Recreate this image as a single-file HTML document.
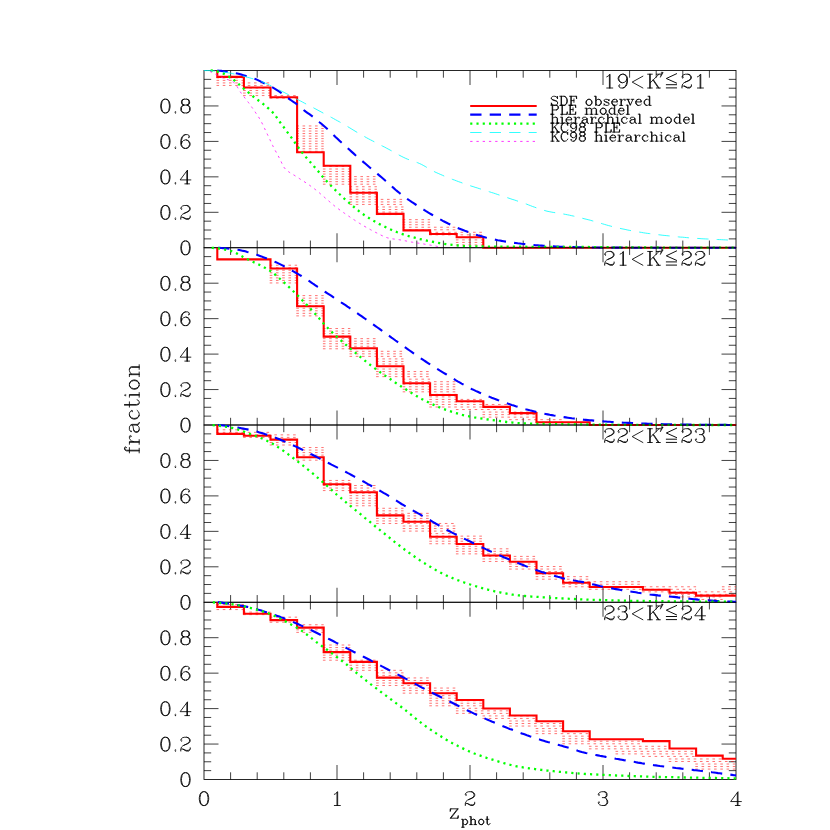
<!DOCTYPE html>
<html><head><meta charset="utf-8"><title>chart</title>
<style>html,body{margin:0;padding:0;background:#fff}svg{display:block}</style></head>
<body>
<svg width="830" height="830" viewBox="0 0 830 830">
<rect width="830" height="830" fill="#fff"/>
<rect x="204.00" y="70.50" width="532.00" height="177.25" fill="none" stroke="#000" stroke-width="0.85"/>
<path d="M230.60 247.75v-7.2M230.60 70.50v7.2M257.20 247.75v-7.2M257.20 70.50v7.2M283.80 247.75v-7.2M283.80 70.50v7.2M310.40 247.75v-7.2M310.40 70.50v7.2M337.00 247.75v-14.5M337.00 70.50v14.5M363.60 247.75v-7.2M363.60 70.50v7.2M390.20 247.75v-7.2M390.20 70.50v7.2M416.80 247.75v-7.2M416.80 70.50v7.2M443.40 247.75v-7.2M443.40 70.50v7.2M470.00 247.75v-14.5M470.00 70.50v14.5M496.60 247.75v-7.2M496.60 70.50v7.2M523.20 247.75v-7.2M523.20 70.50v7.2M549.80 247.75v-7.2M549.80 70.50v7.2M576.40 247.75v-7.2M576.40 70.50v7.2M603.00 247.75v-14.5M603.00 70.50v14.5M629.60 247.75v-7.2M629.60 70.50v7.2M656.20 247.75v-7.2M656.20 70.50v7.2M682.80 247.75v-7.2M682.80 70.50v7.2M709.40 247.75v-7.2M709.40 70.50v7.2M204.00 238.89h7.2M736.00 238.89h-7.2M204.00 230.03h7.2M736.00 230.03h-7.2M204.00 221.16h7.2M736.00 221.16h-7.2M204.00 212.30h14.5M736.00 212.30h-14.5M204.00 203.44h7.2M736.00 203.44h-7.2M204.00 194.57h7.2M736.00 194.57h-7.2M204.00 185.71h7.2M736.00 185.71h-7.2M204.00 176.85h14.5M736.00 176.85h-14.5M204.00 167.99h7.2M736.00 167.99h-7.2M204.00 159.12h7.2M736.00 159.12h-7.2M204.00 150.26h7.2M736.00 150.26h-7.2M204.00 141.40h14.5M736.00 141.40h-14.5M204.00 132.54h7.2M736.00 132.54h-7.2M204.00 123.67h7.2M736.00 123.67h-7.2M204.00 114.81h7.2M736.00 114.81h-7.2M204.00 105.95h14.5M736.00 105.95h-14.5M204.00 97.09h7.2M736.00 97.09h-7.2M204.00 88.22h7.2M736.00 88.22h-7.2M204.00 79.36h7.2M736.00 79.36h-7.2" stroke="#000" stroke-width="0.75" fill="none"/>
<path d="M216.5 77.85H243.9M216.5 80.38H243.9M216.5 82.91H270.5M216.5 85.45H270.5M243.1 87.98H270.5M243.1 90.51H270.5M243.1 93.04H270.5M243.1 95.57H297.1M269.7 98.11H297.1M296.3 125.96H323.7M296.3 128.49H323.7M296.3 131.02H323.7M296.3 133.55H323.7M296.3 136.09H323.7M296.3 138.62H323.7M296.3 141.15H323.7M296.3 143.68H323.7M296.3 146.21H323.7M296.3 148.75H323.7M296.3 151.28H323.7M322.9 166.47H350.3M322.9 169.00H350.3M322.9 171.53H350.3M322.9 174.07H350.3M322.9 176.60H376.9M322.9 179.13H376.9M322.9 181.66H376.9M322.9 184.19H376.9M349.5 186.73H376.9M349.5 189.26H376.9M349.5 191.79H376.9M349.5 194.32H376.9M349.5 196.85H376.9M349.5 199.39H403.5M349.5 201.92H403.5M349.5 204.45H403.5M376.1 206.98H403.5M376.1 209.51H403.5M376.1 212.05H403.5M376.1 214.58H403.5M402.7 219.64H430.1M402.7 222.17H430.1M402.7 224.71H430.1M402.7 227.24H456.7M402.7 229.77H456.7M429.3 232.30H483.3M429.3 234.83H483.3M455.9 237.37H483.3M455.9 239.90H483.3M455.9 242.43H483.3M455.9 244.96H483.3" stroke="#ff0000" stroke-width="0.65" stroke-dasharray="2.6 3.65" fill="none" opacity="0.85"/>
<polyline points="217.3,70.5 217.3,76.9 243.9,76.9 243.9,87.5 270.5,87.5 270.5,97.3 297.1,97.3 297.1,152.2 323.7,152.2 323.7,165.8 350.3,165.8 350.3,192.8 376.9,192.8 376.9,213.9 403.5,213.9 403.5,230.4 430.1,230.4 430.1,234.0 456.7,234.0 456.7,237.3 483.3,237.3 483.3,247.8 736.0,247.8" fill="none" stroke="#ff0000" stroke-width="2.1" stroke-linejoin="miter"/>
<polyline points="217.3,70.5 219.3,70.7 221.3,70.9 223.3,71.2 225.3,71.5 227.3,71.7 229.3,72.0 231.3,72.4 233.3,72.7 235.3,73.1 237.3,73.5 239.3,74.0 241.3,74.6 243.3,75.2 245.3,75.8 247.3,76.4 249.3,77.0 251.3,77.7 253.3,78.4 255.4,79.1 257.4,79.9 259.4,80.9 261.4,81.9 263.4,82.9 265.4,83.9 267.4,84.8 269.4,85.8 271.4,86.8 273.4,87.9 275.4,89.1 277.4,90.4 279.4,91.7 281.4,93.0 283.4,94.5 285.4,96.0 287.4,97.6 289.4,99.1 291.4,100.5 293.4,101.9 295.4,103.2 297.4,104.7 299.4,106.3 301.4,108.1 303.4,109.8 305.4,111.4 307.4,112.8 309.4,114.2 311.4,115.7 313.4,117.2 315.4,118.8 317.4,120.5 319.4,122.2 321.4,123.8 323.4,125.5 325.4,127.2 327.4,129.0 329.5,130.9 331.5,132.9 333.5,134.9 335.5,136.9 337.5,138.8 339.5,140.7 341.5,142.6 343.5,144.4 345.5,146.2 347.5,148.0 349.5,149.8 351.5,151.6 353.5,153.4 355.5,155.2 357.5,156.9 359.5,158.7 361.5,160.4 363.5,162.1 365.5,163.8 367.5,165.5 369.5,167.2 371.5,168.9 373.5,170.6 375.5,172.3 377.5,173.9 379.5,175.6 381.5,177.3 383.5,179.0 385.5,180.8 387.5,182.6 389.5,184.4 391.5,186.2 393.5,187.9 395.5,189.7 397.5,191.4 399.5,193.0 401.5,194.6 403.6,196.1 405.6,197.6 407.6,199.1 409.6,200.5 411.6,201.9 413.6,203.2 415.6,204.5 417.6,205.8 419.6,207.1 421.6,208.4 423.6,209.6 425.6,210.9 427.6,212.1 429.6,213.3 431.6,214.5 433.6,215.7 435.6,216.9 437.6,218.0 439.6,219.1 441.6,220.2 443.6,221.3 445.6,222.3 447.6,223.3 449.6,224.2 451.6,225.2 453.6,226.1 455.6,227.0 457.6,227.9 459.6,228.7 461.6,229.5 463.6,230.3 465.6,231.1 467.6,231.8 469.6,232.6 471.6,233.2 473.6,233.9 475.6,234.5 477.7,235.2 479.7,235.8 481.7,236.3 483.7,236.9 485.7,237.5 487.7,238.0 489.7,238.5 491.7,238.9 493.7,239.4 495.7,239.8 497.7,240.2 499.7,240.5 501.7,240.9 503.7,241.2 505.7,241.6 507.7,241.9 509.7,242.2 511.7,242.5 513.7,242.8 515.7,243.0 517.7,243.3 519.7,243.5 521.7,243.8 523.7,244.0 525.7,244.2 527.7,244.4 529.7,244.6 531.7,244.8 533.7,245.0 535.7,245.2 537.7,245.3 539.7,245.5 541.7,245.6 543.7,245.8 545.7,245.9 547.7,246.0 549.7,246.1 551.8,246.3 553.8,246.4 555.8,246.5 557.8,246.6 559.8,246.7 561.8,246.8 563.8,246.9 565.8,246.9 567.8,247.0 569.8,247.0 571.8,247.1 573.8,247.1 575.8,247.2 577.8,247.2 579.8,247.3 581.8,247.3 583.8,247.4 585.8,247.4 587.8,247.4 589.8,247.5 591.8,247.5 593.8,247.5 595.8,247.5 597.8,247.5 599.8,247.6 601.8,247.6 603.8,247.6 605.8,247.6 607.8,247.6 609.8,247.6 611.8,247.6 613.8,247.6 615.8,247.6 617.8,247.6 619.8,247.6 621.8,247.6 623.8,247.6 625.9,247.6 627.9,247.6 629.9,247.6 631.9,247.6 633.9,247.7 635.9,247.7 637.9,247.7 639.9,247.7 641.9,247.7 643.9,247.7 645.9,247.7 647.9,247.7 649.9,247.7 651.9,247.7 653.9,247.7 655.9,247.7 657.9,247.7 659.9,247.7 661.9,247.7 663.9,247.7 665.9,247.7 667.9,247.7 669.9,247.7 671.9,247.7 673.9,247.7 675.9,247.7 677.9,247.7 679.9,247.7 681.9,247.7 683.9,247.7 685.9,247.7 687.9,247.7 689.9,247.7 691.9,247.7 693.9,247.7 695.9,247.7 697.9,247.7 700.0,247.7 702.0,247.7 704.0,247.7 706.0,247.7 708.0,247.7 710.0,247.7 712.0,247.7 714.0,247.7 716.0,247.7 718.0,247.7 720.0,247.7 722.0,247.7 724.0,247.7 726.0,247.7 728.0,247.7 730.0,247.7 732.0,247.7 734.0,247.7 736.0,247.8" fill="none" stroke="#0000ff" stroke-width="2.1" stroke-dasharray="11.3 8.2" stroke-dashoffset="0.80"/>
<polyline points="210.7,70.5 212.7,70.6 214.7,70.9 216.7,71.3 218.8,71.9 220.8,72.6 222.8,73.4 224.8,74.2 226.9,75.3 228.9,76.6 230.9,78.0 233.0,79.4 235.0,80.9 237.0,82.6 239.0,84.4 241.1,86.3 243.1,88.1 245.1,89.8 247.2,91.5 249.2,93.2 251.2,94.8 253.2,96.5 255.3,98.0 257.3,99.6 259.3,101.1 261.4,102.6 263.4,104.2 265.4,105.8 267.4,107.5 269.5,109.2 271.5,111.1 273.5,113.3 275.6,116.0 277.6,118.8 279.6,121.6 281.6,124.3 283.7,127.1 285.7,129.9 287.7,132.6 289.8,135.4 291.8,138.2 293.8,141.0 295.8,143.9 297.9,146.8 299.9,149.6 301.9,152.2 304.0,154.7 306.0,157.2 308.0,159.5 310.0,161.8 312.1,164.1 314.1,166.5 316.1,168.9 318.2,171.3 320.2,173.8 322.2,176.2 324.2,178.5 326.3,180.7 328.3,182.9 330.3,185.0 332.4,187.1 334.4,189.1 336.4,191.1 338.4,193.1 340.5,195.0 342.5,196.9 344.5,198.8 346.6,200.6 348.6,202.4 350.6,204.2 352.6,205.9 354.7,207.6 356.7,209.3 358.7,210.9 360.8,212.5 362.8,214.0 364.8,215.4 366.8,216.7 368.9,218.0 370.9,219.3 372.9,220.5 374.9,221.6 377.0,222.8 379.0,223.9 381.0,224.9 383.1,225.9 385.1,226.9 387.1,227.8 389.1,228.8 391.2,229.7 393.2,230.6 395.2,231.4 397.3,232.3 399.3,233.0 401.3,233.8 403.3,234.4 405.4,235.1 407.4,235.7 409.4,236.3 411.5,236.9 413.5,237.4 415.5,237.9 417.5,238.5 419.6,239.0 421.6,239.4 423.6,239.9 425.7,240.3 427.7,240.8 429.7,241.2 431.7,241.6 433.8,242.0 435.8,242.4 437.8,242.8 439.9,243.2 441.9,243.5 443.9,243.8 445.9,244.1 448.0,244.4 450.0,244.6 452.0,244.8 454.1,245.1 456.1,245.3 458.1,245.5 460.1,245.7 462.2,245.9 464.2,246.1 466.2,246.2 468.3,246.3 470.3,246.3 472.3,246.4 474.3,246.4 476.4,246.4 478.4,246.5 480.4,246.5 482.5,246.5 484.5,246.5 486.5,246.5 488.5,246.6 490.6,246.6 492.6,246.6 494.6,246.6 496.7,246.6 498.7,246.6 500.7,246.6 502.7,246.7 504.8,246.7 506.8,246.7 508.8,246.7 510.8,246.7 512.9,246.7 514.9,246.7 516.9,246.7 519.0,246.7 521.0,246.7 523.0,246.7 525.0,246.7 527.1,246.8 529.1,246.8 531.1,246.8 533.2,246.8 535.2,246.8 537.2,246.8 539.2,246.8 541.3,246.8 543.3,246.8 545.3,246.8 547.4,246.8 549.4,246.8 551.4,246.8 553.4,246.8 555.5,246.8 557.5,246.8 559.5,246.8 561.6,246.9 563.6,246.9 565.6,246.9 567.6,246.9 569.7,246.9 571.7,246.9 573.7,246.9 575.8,246.9 577.8,247.0 579.8,247.0 581.8,247.0 583.9,247.0 585.9,247.0 587.9,247.0 590.0,247.1 592.0,247.1 594.0,247.1 596.0,247.1 598.1,247.1 600.1,247.2 602.1,247.2 604.2,247.2 606.2,247.2 608.2,247.2 610.2,247.3 612.3,247.3 614.3,247.3 616.3,247.3 618.4,247.3 620.4,247.3 622.4,247.4 624.4,247.4 626.5,247.4 628.5,247.4 630.5,247.4 632.6,247.4 634.6,247.4 636.6,247.4 638.6,247.4 640.7,247.4 642.7,247.5 644.7,247.5 646.8,247.5 648.8,247.5 650.8,247.5 652.8,247.5 654.9,247.5 656.9,247.5 658.9,247.5 661.0,247.5 663.0,247.6 665.0,247.6 667.0,247.6 669.1,247.6 671.1,247.6 673.1,247.6 675.1,247.6 677.2,247.6 679.2,247.6 681.2,247.6 683.3,247.6 685.3,247.6 687.3,247.6 689.3,247.7 691.4,247.7 693.4,247.7 695.4,247.7 697.5,247.7 699.5,247.7 701.5,247.7 703.5,247.7 705.6,247.7 707.6,247.7 709.6,247.7 711.7,247.7 713.7,247.7 715.7,247.7 717.7,247.7 719.8,247.7 721.8,247.7 723.8,247.7 725.9,247.7 727.9,247.7 729.9,247.7 731.9,247.7 734.0,247.7 736.0,247.8" fill="none" stroke="#00ff00" stroke-width="2.3" stroke-dasharray="2.15 4.1" stroke-dashoffset="0.00"/>
<polyline points="204.0,70.5 206.1,70.6 208.1,70.6 210.2,70.7 212.2,70.9 214.3,71.0 216.3,71.2 218.4,71.4 220.4,71.6 222.5,71.9 224.5,72.2 226.6,72.5 228.6,72.9 230.7,73.2 232.8,73.7 234.8,74.1 236.9,74.6 238.9,75.0 241.0,75.5 243.0,76.1 245.1,76.6 247.1,77.2 249.2,77.7 251.2,78.3 253.3,78.9 255.4,79.5 257.4,80.1 259.5,80.8 261.5,81.6 263.6,82.4 265.6,83.3 267.7,84.2 269.7,85.2 271.8,86.2 273.8,87.2 275.9,88.3 277.9,89.3 280.0,90.4 282.1,91.4 284.1,92.4 286.2,93.5 288.2,94.5 290.3,95.6 292.3,96.7 294.4,97.8 296.4,98.9 298.5,100.0 300.5,101.0 302.6,102.1 304.6,103.2 306.7,104.3 308.8,105.4 310.8,106.5 312.9,107.5 314.9,108.6 317.0,109.7 319.0,110.8 321.1,111.9 323.1,113.0 325.2,114.1 327.2,115.2 329.3,116.3 331.4,117.4 333.4,118.5 335.5,119.7 337.5,120.8 339.6,121.9 341.6,123.1 343.7,124.3 345.7,125.5 347.8,126.7 349.8,127.9 351.9,129.2 353.9,130.4 356.0,131.7 358.1,132.9 360.1,134.1 362.2,135.3 364.2,136.4 366.3,137.6 368.3,138.7 370.4,139.8 372.4,140.8 374.5,141.9 376.5,143.0 378.6,144.1 380.6,145.1 382.7,146.2 384.8,147.2 386.8,148.3 388.9,149.4 390.9,150.5 393.0,151.6 395.0,152.8 397.1,153.9 399.1,155.1 401.2,156.2 403.2,157.2 405.3,158.2 407.4,159.1 409.4,159.9 411.5,160.6 413.5,161.3 415.6,162.0 417.6,162.7 419.7,163.6 421.7,164.5 423.8,165.7 425.8,166.8 427.9,168.1 429.9,169.3 432.0,170.4 434.1,171.5 436.1,172.5 438.2,173.4 440.2,174.3 442.3,175.2 444.3,176.1 446.4,176.9 448.4,177.7 450.5,178.6 452.5,179.4 454.6,180.1 456.6,180.9 458.7,181.7 460.8,182.4 462.8,183.2 464.9,183.9 466.9,184.6 469.0,185.3 471.0,186.0 473.1,186.6 475.1,187.3 477.2,187.9 479.2,188.6 481.3,189.2 483.4,189.9 485.4,190.5 487.5,191.2 489.5,191.8 491.6,192.5 493.6,193.1 495.7,193.8 497.7,194.5 499.8,195.2 501.8,195.8 503.9,196.5 505.9,197.2 508.0,197.9 510.1,198.6 512.1,199.3 514.2,199.9 516.2,200.6 518.3,201.3 520.3,202.0 522.4,202.7 524.4,203.4 526.5,204.1 528.5,204.9 530.6,205.7 532.6,206.5 534.7,207.2 536.8,208.0 538.8,208.7 540.9,209.4 542.9,210.0 545.0,210.6 547.0,211.2 549.1,211.6 551.1,212.0 553.2,212.4 555.2,212.7 557.3,213.0 559.4,213.3 561.4,213.6 563.5,214.0 565.5,214.4 567.6,214.8 569.6,215.2 571.7,215.7 573.7,216.1 575.8,216.6 577.8,217.1 579.9,217.6 581.9,218.1 584.0,218.7 586.1,219.2 588.1,219.7 590.2,220.2 592.2,220.8 594.3,221.3 596.3,221.9 598.4,222.5 600.4,223.1 602.5,223.8 604.5,224.4 606.6,225.0 608.6,225.6 610.7,226.1 612.8,226.7 614.8,227.2 616.9,227.7 618.9,228.1 621.0,228.6 623.0,229.0 625.1,229.4 627.1,229.9 629.2,230.3 631.2,230.7 633.3,231.0 635.4,231.4 637.4,231.8 639.5,232.1 641.5,232.4 643.6,232.8 645.6,233.1 647.7,233.4 649.7,233.6 651.8,233.9 653.8,234.2 655.9,234.4 657.9,234.7 660.0,234.9 662.1,235.2 664.1,235.4 666.2,235.6 668.2,235.8 670.3,236.0 672.3,236.2 674.4,236.5 676.4,236.7 678.5,236.9 680.5,237.1 682.6,237.2 684.6,237.4 686.7,237.6 688.8,237.8 690.8,238.0 692.9,238.1 694.9,238.3 697.0,238.4 699.0,238.5 701.1,238.7 703.1,238.8 705.2,238.9 707.2,239.0 709.3,239.1 711.4,239.2 713.4,239.3 715.5,239.4 717.5,239.5 719.6,239.6 721.6,239.7 723.7,239.8 725.7,239.9 727.8,240.0 729.8,240.1 731.9,240.2 733.9,240.3 736.0,240.5" fill="none" stroke="#00ffff" stroke-width="0.8" stroke-dasharray="11.3 8.2"/>
<polyline points="210.0,71.4 210.9,71.9 211.8,72.3 212.7,72.8 213.6,73.3 214.5,73.7 215.4,74.2 216.3,74.6 217.2,75.1 218.0,75.5 218.9,76.0 219.8,76.4 220.7,76.8 221.6,77.3 222.5,77.7 223.4,78.1 224.3,78.4 225.2,78.7 226.1,79.1 227.0,79.4 227.9,79.7 228.8,80.0 229.7,80.4 230.6,80.8 231.5,81.2 232.4,81.7 233.3,82.2 234.2,82.8 235.1,83.7 236.0,84.9 236.9,86.3 237.8,87.8 238.7,89.3 239.6,90.8 240.5,92.1 241.3,93.3 242.2,94.5 243.1,95.7 244.0,96.8 244.9,98.0 245.8,99.1 246.7,100.3 247.6,101.4 248.5,102.6 249.4,103.8 250.3,105.1 251.2,106.3 252.1,107.6 253.0,108.8 253.9,110.1 254.8,111.4 255.7,112.8 256.6,114.1 257.5,115.4 258.4,116.7 259.3,118.2 260.2,119.7 261.1,121.3 262.0,123.1 262.9,124.8 263.7,126.7 264.6,128.5 265.5,130.4 266.4,132.3 267.3,134.2 268.2,136.0 269.1,137.9 270.0,139.8 270.9,141.8 271.8,143.7 272.7,145.6 273.6,147.4 274.5,149.1 275.4,150.8 276.3,152.4 277.2,154.1 278.1,155.7 279.0,157.4 279.9,159.1 280.8,161.0 281.7,162.9 282.6,164.8 283.5,166.5 284.4,167.9 285.3,168.9 286.2,169.8 287.0,170.6 287.9,171.3 288.8,171.9 289.7,172.5 290.6,173.1 291.5,173.6 292.4,174.1 293.3,174.7 294.2,175.2 295.1,175.8 296.0,176.4 296.9,177.0 297.8,177.6 298.7,178.1 299.6,178.7 300.5,179.3 301.4,179.8 302.3,180.4 303.2,181.0 304.1,181.6 305.0,182.1 305.9,182.8 306.8,183.4 307.7,184.0 308.6,184.6 309.4,185.2 310.3,185.8 311.2,186.5 312.1,187.1 313.0,187.8 313.9,188.5 314.8,189.1 315.7,189.8 316.6,190.5 317.5,191.3 318.4,192.0 319.3,192.8 320.2,193.6 321.1,194.4 322.0,195.2 322.9,195.9 323.8,196.7 324.7,197.5 325.6,198.3 326.5,199.0 327.4,199.8 328.3,200.6 329.2,201.4 330.1,202.1 331.0,202.9 331.9,203.7 332.7,204.4 333.6,205.2 334.5,205.9 335.4,206.6 336.3,207.3 337.2,208.0 338.1,208.7 339.0,209.3 339.9,210.0 340.8,210.6 341.7,211.3 342.6,211.9 343.5,212.6 344.4,213.2 345.3,213.8 346.2,214.5 347.1,215.1 348.0,215.7 348.9,216.3 349.8,216.9 350.7,217.6 351.6,218.2 352.5,218.8 353.4,219.4 354.3,219.9 355.2,220.5 356.0,221.1 356.9,221.7 357.8,222.2 358.7,222.8 359.6,223.4 360.5,223.9 361.4,224.4 362.3,225.0 363.2,225.5 364.1,226.1 365.0,226.6 365.9,227.1 366.8,227.6 367.7,228.1 368.6,228.6 369.5,229.1 370.4,229.6 371.3,230.1 372.2,230.6 373.1,231.1 374.0,231.6 374.9,232.0 375.8,232.5 376.7,232.9 377.6,233.3 378.4,233.8 379.3,234.3 380.2,234.7 381.1,235.2 382.0,235.6 382.9,236.0 383.8,236.4 384.7,236.8 385.6,237.2 386.5,237.5 387.4,237.8 388.3,238.0 389.2,238.3 390.1,238.4 391.0,238.6 391.9,238.7 392.8,238.9 393.7,239.0 394.6,239.1 395.5,239.2 396.4,239.4 397.3,239.5 398.2,239.6 399.1,239.7 400.0,239.9 400.9,240.0 401.7,240.2 402.6,240.3 403.5,240.5 404.4,240.7 405.3,240.8 406.2,241.0 407.1,241.2 408.0,241.4 408.9,241.6 409.8,241.7 410.7,241.9 411.6,242.1 412.5,242.2 413.4,242.4 414.3,242.5 415.2,242.7 416.1,242.8 417.0,242.9 417.9,243.1 418.8,243.2 419.7,243.4 420.6,243.5 421.5,243.6 422.4,243.8 423.3,243.9 424.1,244.1 425.0,244.2 425.9,244.4 426.8,244.5 427.7,244.7 428.6,244.8 429.5,245.0 430.4,245.1 431.3,245.3 432.2,245.5 433.1,245.6 434.0,245.8 434.9,245.9 435.8,246.1 436.7,246.3 437.6,246.5 438.5,246.6 439.4,246.8 440.3,247.0 441.2,247.2 442.1,247.4" fill="none" stroke="#ff00ff" stroke-width="0.8" stroke-dasharray="2.3 3.95"/>
<rect x="204.00" y="247.75" width="532.00" height="177.25" fill="none" stroke="#000" stroke-width="0.85"/>
<path d="M230.60 425.00v-7.2M230.60 247.75v7.2M257.20 425.00v-7.2M257.20 247.75v7.2M283.80 425.00v-7.2M283.80 247.75v7.2M310.40 425.00v-7.2M310.40 247.75v7.2M337.00 425.00v-14.5M337.00 247.75v14.5M363.60 425.00v-7.2M363.60 247.75v7.2M390.20 425.00v-7.2M390.20 247.75v7.2M416.80 425.00v-7.2M416.80 247.75v7.2M443.40 425.00v-7.2M443.40 247.75v7.2M470.00 425.00v-14.5M470.00 247.75v14.5M496.60 425.00v-7.2M496.60 247.75v7.2M523.20 425.00v-7.2M523.20 247.75v7.2M549.80 425.00v-7.2M549.80 247.75v7.2M576.40 425.00v-7.2M576.40 247.75v7.2M603.00 425.00v-14.5M603.00 247.75v14.5M629.60 425.00v-7.2M629.60 247.75v7.2M656.20 425.00v-7.2M656.20 247.75v7.2M682.80 425.00v-7.2M682.80 247.75v7.2M709.40 425.00v-7.2M709.40 247.75v7.2M204.00 416.14h7.2M736.00 416.14h-7.2M204.00 407.27h7.2M736.00 407.27h-7.2M204.00 398.41h7.2M736.00 398.41h-7.2M204.00 389.55h14.5M736.00 389.55h-14.5M204.00 380.69h7.2M736.00 380.69h-7.2M204.00 371.82h7.2M736.00 371.82h-7.2M204.00 362.96h7.2M736.00 362.96h-7.2M204.00 354.10h14.5M736.00 354.10h-14.5M204.00 345.24h7.2M736.00 345.24h-7.2M204.00 336.38h7.2M736.00 336.38h-7.2M204.00 327.51h7.2M736.00 327.51h-7.2M204.00 318.65h14.5M736.00 318.65h-14.5M204.00 309.79h7.2M736.00 309.79h-7.2M204.00 300.93h7.2M736.00 300.93h-7.2M204.00 292.06h7.2M736.00 292.06h-7.2M204.00 283.20h14.5M736.00 283.20h-14.5M204.00 274.34h7.2M736.00 274.34h-7.2M204.00 265.48h7.2M736.00 265.48h-7.2M204.00 256.61h7.2M736.00 256.61h-7.2" stroke="#000" stroke-width="0.75" fill="none"/>
<path d="M269.7 265.22H297.1M269.7 267.75H297.1M269.7 270.28H297.1M269.7 272.81H297.1M269.7 275.35H297.1M269.7 277.88H297.1M269.7 280.41H297.1M269.7 282.94H297.1M296.3 295.60H323.7M296.3 298.13H323.7M296.3 300.67H323.7M296.3 303.20H323.7M296.3 305.73H323.7M296.3 308.26H323.7M296.3 310.79H323.7M296.3 313.33H323.7M296.3 315.86H323.7M322.9 328.52H350.3M322.9 331.05H350.3M322.9 333.58H350.3M322.9 336.11H350.3M322.9 338.65H376.9M322.9 341.18H376.9M322.9 343.71H376.9M322.9 346.24H376.9M322.9 348.77H376.9M349.5 351.31H403.5M349.5 353.84H403.5M349.5 356.37H403.5M376.1 358.90H403.5M376.1 361.43H403.5M376.1 363.97H403.5M376.1 366.50H403.5M376.1 369.03H403.5M376.1 371.56H430.1M376.1 374.09H430.1M376.1 376.63H430.1M402.7 379.16H430.1M402.7 381.69H456.7M402.7 384.22H456.7M402.7 386.75H456.7M402.7 389.29H456.7M402.7 391.82H456.7M429.3 394.35H456.7M429.3 396.88H456.7M429.3 399.41H483.3M429.3 401.95H483.3M429.3 404.48H509.9M429.3 407.01H509.9M455.9 409.54H509.9M482.5 412.07H536.5M482.5 414.61H536.5M482.5 417.14H536.5M509.1 419.67H563.1M535.7 422.20H563.1" stroke="#ff0000" stroke-width="0.65" stroke-dasharray="2.6 3.65" fill="none" opacity="0.85"/>
<polyline points="217.3,247.8 217.3,259.4 270.5,259.4 270.5,268.5 297.1,268.5 297.1,306.2 323.7,306.2 323.7,336.6 350.3,336.6 350.3,348.2 376.9,348.2 376.9,366.2 403.5,366.2 403.5,383.3 430.1,383.3 430.1,395.0 456.7,395.0 456.7,401.2 483.3,401.2 483.3,406.9 509.9,406.9 509.9,413.1 536.5,413.1 536.5,422.3 589.7,422.3 589.7,425.0 736.0,425.0" fill="none" stroke="#ff0000" stroke-width="2.1" stroke-linejoin="miter"/>
<polyline points="217.3,247.8 219.3,247.9 221.3,248.0 223.3,248.2 225.3,248.3 227.3,248.5 229.3,248.7 231.3,248.9 233.3,249.2 235.3,249.4 237.3,249.7 239.3,250.0 241.3,250.4 243.3,250.9 245.3,251.3 247.3,251.9 249.3,252.4 251.3,253.0 253.3,253.6 255.4,254.3 257.4,255.0 259.4,255.7 261.4,256.4 263.4,257.2 265.4,257.9 267.4,258.7 269.4,259.4 271.4,260.2 273.4,261.1 275.4,262.0 277.4,262.9 279.4,263.9 281.4,264.9 283.4,265.9 285.4,267.0 287.4,268.0 289.4,269.1 291.4,270.2 293.4,271.4 295.4,272.5 297.4,273.6 299.4,274.8 301.4,276.0 303.4,277.3 305.4,278.6 307.4,279.9 309.4,281.2 311.4,282.6 313.4,284.0 315.4,285.3 317.4,286.7 319.4,288.0 321.4,289.4 323.4,290.7 325.4,292.0 327.4,293.3 329.5,294.6 331.5,295.9 333.5,297.3 335.5,298.6 337.5,299.9 339.5,301.2 341.5,302.6 343.5,303.9 345.5,305.2 347.5,306.6 349.5,307.9 351.5,309.3 353.5,310.7 355.5,312.0 357.5,313.4 359.5,314.8 361.5,316.2 363.5,317.6 365.5,319.0 367.5,320.4 369.5,321.8 371.5,323.3 373.5,324.7 375.5,326.1 377.5,327.5 379.5,328.9 381.5,330.4 383.5,331.8 385.5,333.3 387.5,334.7 389.5,336.1 391.5,337.6 393.5,339.0 395.5,340.5 397.5,341.9 399.5,343.4 401.5,344.8 403.6,346.3 405.6,347.7 407.6,349.1 409.6,350.5 411.6,351.9 413.6,353.3 415.6,354.7 417.6,356.1 419.6,357.5 421.6,358.8 423.6,360.2 425.6,361.5 427.6,362.8 429.6,364.1 431.6,365.4 433.6,366.6 435.6,367.9 437.6,369.1 439.6,370.4 441.6,371.6 443.6,372.8 445.6,374.0 447.6,375.2 449.6,376.4 451.6,377.6 453.6,378.8 455.6,380.1 457.6,381.3 459.6,382.4 461.6,383.6 463.6,384.7 465.6,385.9 467.6,386.9 469.6,388.0 471.6,389.0 473.6,389.9 475.6,390.9 477.7,391.8 479.7,392.7 481.7,393.6 483.7,394.4 485.7,395.2 487.7,396.1 489.7,396.9 491.7,397.7 493.7,398.4 495.7,399.2 497.7,400.0 499.7,400.7 501.7,401.4 503.7,402.2 505.7,402.9 507.7,403.6 509.7,404.2 511.7,404.9 513.7,405.5 515.7,406.2 517.7,406.8 519.7,407.4 521.7,408.0 523.7,408.6 525.7,409.2 527.7,409.7 529.7,410.3 531.7,410.8 533.7,411.3 535.7,411.8 537.7,412.3 539.7,412.7 541.7,413.2 543.7,413.6 545.7,414.0 547.7,414.4 549.7,414.8 551.8,415.1 553.8,415.5 555.8,415.8 557.8,416.2 559.8,416.5 561.8,416.8 563.8,417.1 565.8,417.4 567.8,417.7 569.8,418.0 571.8,418.3 573.8,418.5 575.8,418.8 577.8,419.0 579.8,419.3 581.8,419.5 583.8,419.7 585.8,419.9 587.8,420.1 589.8,420.3 591.8,420.4 593.8,420.6 595.8,420.8 597.8,420.9 599.8,421.1 601.8,421.2 603.8,421.4 605.8,421.5 607.8,421.7 609.8,421.8 611.8,422.0 613.8,422.1 615.8,422.2 617.8,422.3 619.8,422.4 621.8,422.6 623.8,422.7 625.9,422.8 627.9,422.9 629.9,422.9 631.9,423.0 633.9,423.1 635.9,423.2 637.9,423.3 639.9,423.4 641.9,423.5 643.9,423.5 645.9,423.6 647.9,423.7 649.9,423.8 651.9,423.8 653.9,423.9 655.9,424.0 657.9,424.0 659.9,424.1 661.9,424.1 663.9,424.2 665.9,424.2 667.9,424.3 669.9,424.3 671.9,424.3 673.9,424.4 675.9,424.4 677.9,424.4 679.9,424.5 681.9,424.5 683.9,424.5 685.9,424.6 687.9,424.6 689.9,424.6 691.9,424.6 693.9,424.7 695.9,424.7 697.9,424.7 700.0,424.7 702.0,424.8 704.0,424.8 706.0,424.8 708.0,424.8 710.0,424.8 712.0,424.8 714.0,424.9 716.0,424.9 718.0,424.9 720.0,424.9 722.0,424.9 724.0,424.9 726.0,424.9 728.0,425.0 730.0,425.0 732.0,425.0 734.0,425.0 736.0,425.0" fill="none" stroke="#0000ff" stroke-width="2.1" stroke-dasharray="11.3 8.2" stroke-dashoffset="18.70"/>
<polyline points="210.7,247.8 212.7,247.9 214.7,248.1 216.7,248.3 218.8,248.5 220.8,248.8 222.8,249.2 224.8,249.6 226.9,250.0 228.9,250.4 230.9,251.0 233.0,251.7 235.0,252.6 237.0,253.6 239.0,254.7 241.1,255.8 243.1,256.9 245.1,258.0 247.2,259.1 249.2,260.1 251.2,261.1 253.2,262.0 255.3,262.9 257.3,263.9 259.3,264.8 261.4,265.8 263.4,266.9 265.4,268.0 267.4,269.2 269.5,270.4 271.5,271.8 273.5,273.3 275.6,275.0 277.6,276.7 279.6,278.5 281.6,280.4 283.7,282.2 285.7,284.0 287.7,285.9 289.8,287.8 291.8,289.8 293.8,291.7 295.8,293.7 297.9,295.7 299.9,297.8 301.9,299.9 304.0,301.9 306.0,304.1 308.0,306.2 310.0,308.4 312.1,310.5 314.1,312.7 316.1,314.9 318.2,317.2 320.2,319.6 322.2,321.9 324.2,324.2 326.3,326.4 328.3,328.5 330.3,330.5 332.4,332.5 334.4,334.4 336.4,336.3 338.4,338.1 340.5,340.0 342.5,341.8 344.5,343.6 346.6,345.4 348.6,347.1 350.6,348.8 352.6,350.5 354.7,352.2 356.7,353.9 358.7,355.6 360.8,357.3 362.8,359.0 364.8,360.6 366.8,362.3 368.9,363.9 370.9,365.4 372.9,366.9 374.9,368.4 377.0,369.9 379.0,371.3 381.0,372.8 383.1,374.2 385.1,375.6 387.1,376.9 389.1,378.3 391.2,379.7 393.2,381.1 395.2,382.5 397.3,383.8 399.3,385.2 401.3,386.5 403.3,387.8 405.4,389.1 407.4,390.3 409.4,391.6 411.5,392.9 413.5,394.2 415.5,395.4 417.5,396.6 419.6,397.8 421.6,398.9 423.6,400.0 425.7,401.0 427.7,402.0 429.7,403.0 431.7,404.0 433.8,404.9 435.8,405.8 437.8,406.7 439.9,407.5 441.9,408.4 443.9,409.1 445.9,409.9 448.0,410.6 450.0,411.2 452.0,411.9 454.1,412.5 456.1,413.1 458.1,413.7 460.1,414.2 462.2,414.8 464.2,415.3 466.2,415.8 468.3,416.2 470.3,416.6 472.3,417.0 474.3,417.4 476.4,417.7 478.4,418.1 480.4,418.4 482.5,418.7 484.5,419.0 486.5,419.3 488.5,419.5 490.6,419.8 492.6,420.1 494.6,420.3 496.7,420.6 498.7,420.9 500.7,421.2 502.7,421.4 504.8,421.7 506.8,422.0 508.8,422.2 510.8,422.4 512.9,422.6 514.9,422.8 516.9,423.0 519.0,423.1 521.0,423.2 523.0,423.3 525.0,423.4 527.1,423.5 529.1,423.6 531.1,423.7 533.2,423.8 535.2,423.8 537.2,423.9 539.2,423.9 541.3,424.0 543.3,424.0 545.3,424.0 547.4,424.1 549.4,424.1 551.4,424.1 553.4,424.1 555.5,424.2 557.5,424.2 559.5,424.2 561.6,424.2 563.6,424.2 565.6,424.3 567.6,424.3 569.7,424.3 571.7,424.3 573.7,424.3 575.8,424.4 577.8,424.4 579.8,424.4 581.8,424.4 583.9,424.4 585.9,424.5 587.9,424.5 590.0,424.5 592.0,424.5 594.0,424.6 596.0,424.6 598.1,424.6 600.1,424.6 602.1,424.6 604.2,424.7 606.2,424.7 608.2,424.7 610.2,424.7 612.3,424.7 614.3,424.7 616.3,424.8 618.4,424.8 620.4,424.8 622.4,424.8 624.4,424.8 626.5,424.8 628.5,424.8 630.5,424.8 632.6,424.8 634.6,424.8 636.6,424.8 638.6,424.8 640.7,424.9 642.7,424.9 644.7,424.9 646.8,424.9 648.8,424.9 650.8,424.9 652.8,424.9 654.9,424.9 656.9,424.9 658.9,424.9 661.0,424.9 663.0,424.9 665.0,424.9 667.0,424.9 669.1,424.9 671.1,424.9 673.1,424.9 675.1,424.9 677.2,424.9 679.2,424.9 681.2,424.9 683.3,425.0 685.3,425.0 687.3,425.0 689.3,425.0 691.4,425.0 693.4,425.0 695.4,425.0 697.5,425.0 699.5,425.0 701.5,425.0 703.5,425.0 705.6,425.0 707.6,425.0 709.6,425.0 711.7,425.0 713.7,425.0 715.7,425.0 717.7,425.0 719.8,425.0 721.8,425.0 723.8,425.0 725.9,425.0 727.9,425.0 729.9,425.0 731.9,425.0 734.0,425.0 736.0,425.0" fill="none" stroke="#00ff00" stroke-width="2.3" stroke-dasharray="2.15 4.1" stroke-dashoffset="5.25"/>
<rect x="204.00" y="425.00" width="532.00" height="177.25" fill="none" stroke="#000" stroke-width="0.85"/>
<path d="M230.60 602.25v-7.2M230.60 425.00v7.2M257.20 602.25v-7.2M257.20 425.00v7.2M283.80 602.25v-7.2M283.80 425.00v7.2M310.40 602.25v-7.2M310.40 425.00v7.2M337.00 602.25v-14.5M337.00 425.00v14.5M363.60 602.25v-7.2M363.60 425.00v7.2M390.20 602.25v-7.2M390.20 425.00v7.2M416.80 602.25v-7.2M416.80 425.00v7.2M443.40 602.25v-7.2M443.40 425.00v7.2M470.00 602.25v-14.5M470.00 425.00v14.5M496.60 602.25v-7.2M496.60 425.00v7.2M523.20 602.25v-7.2M523.20 425.00v7.2M549.80 602.25v-7.2M549.80 425.00v7.2M576.40 602.25v-7.2M576.40 425.00v7.2M603.00 602.25v-14.5M603.00 425.00v14.5M629.60 602.25v-7.2M629.60 425.00v7.2M656.20 602.25v-7.2M656.20 425.00v7.2M682.80 602.25v-7.2M682.80 425.00v7.2M709.40 602.25v-7.2M709.40 425.00v7.2M204.00 593.39h7.2M736.00 593.39h-7.2M204.00 584.52h7.2M736.00 584.52h-7.2M204.00 575.66h7.2M736.00 575.66h-7.2M204.00 566.80h14.5M736.00 566.80h-14.5M204.00 557.94h7.2M736.00 557.94h-7.2M204.00 549.08h7.2M736.00 549.08h-7.2M204.00 540.21h7.2M736.00 540.21h-7.2M204.00 531.35h14.5M736.00 531.35h-14.5M204.00 522.49h7.2M736.00 522.49h-7.2M204.00 513.62h7.2M736.00 513.62h-7.2M204.00 504.76h7.2M736.00 504.76h-7.2M204.00 495.90h14.5M736.00 495.90h-14.5M204.00 487.04h7.2M736.00 487.04h-7.2M204.00 478.18h7.2M736.00 478.18h-7.2M204.00 469.31h7.2M736.00 469.31h-7.2M204.00 460.45h14.5M736.00 460.45h-14.5M204.00 451.59h7.2M736.00 451.59h-7.2M204.00 442.73h7.2M736.00 442.73h-7.2M204.00 433.86h7.2M736.00 433.86h-7.2" stroke="#000" stroke-width="0.75" fill="none"/>
<path d="M216.5 429.80H243.9M216.5 432.33H270.5M243.1 434.86H297.1M243.1 437.39H297.1M269.7 439.93H297.1M269.7 442.46H297.1M269.7 444.99H297.1M296.3 447.52H323.7M296.3 450.05H323.7M296.3 452.59H323.7M296.3 455.12H323.7M296.3 457.65H323.7M296.3 460.18H323.7M322.9 480.44H350.3M322.9 482.97H350.3M322.9 485.50H376.9M322.9 488.03H376.9M322.9 490.57H376.9M349.5 493.10H376.9M349.5 495.63H376.9M349.5 498.16H376.9M349.5 500.69H376.9M349.5 503.23H376.9M349.5 505.76H376.9M376.1 508.29H403.5M376.1 510.82H403.5M376.1 513.35H430.1M376.1 515.89H430.1M376.1 518.42H430.1M376.1 520.95H430.1M376.1 523.48H456.7M402.7 526.01H456.7M402.7 528.55H456.7M402.7 531.08H456.7M429.3 533.61H456.7M429.3 536.14H483.3M429.3 538.67H483.3M429.3 541.21H483.3M429.3 543.74H483.3M455.9 546.27H483.3M455.9 548.80H509.9M455.9 551.33H509.9M455.9 553.87H509.9M482.5 556.40H536.5M482.5 558.93H536.5M482.5 561.46H536.5M509.1 563.99H536.5M509.1 566.53H563.1M509.1 569.06H563.1M535.7 571.59H563.1M535.7 574.12H563.1M535.7 576.65H589.7M535.7 579.19H589.7M562.3 581.72H642.9M562.3 584.25H642.9M562.3 586.78H696.1M721.9 586.78H736.0M588.9 589.31H696.1M721.9 589.31H736.0M642.1 591.85H736.0M668.7 594.38H736.0M668.7 596.91H722.7M695.3 599.44H722.7" stroke="#ff0000" stroke-width="0.65" stroke-dasharray="2.6 3.65" fill="none" opacity="0.85"/>
<polyline points="217.3,425.0 217.3,433.9 243.9,433.9 243.9,435.8 270.5,435.8 270.5,439.6 297.1,439.6 297.1,457.3 323.7,457.3 323.7,484.2 350.3,484.2 350.3,492.2 376.9,492.2 376.9,515.4 403.5,515.4 403.5,521.8 430.1,521.8 430.1,536.7 456.7,536.7 456.7,544.0 483.3,544.0 483.3,555.5 509.9,555.5 509.9,561.8 536.5,561.8 536.5,573.2 563.1,573.2 563.1,582.8 589.7,582.8 589.7,587.0 642.9,587.0 642.9,589.7 669.5,589.7 669.5,592.7 696.1,592.7 696.1,595.6 736.0,595.6" fill="none" stroke="#ff0000" stroke-width="2.1" stroke-linejoin="miter"/>
<polyline points="217.3,425.0 219.3,425.2 221.3,425.3 223.3,425.5 225.3,425.8 227.3,426.0 229.3,426.3 231.3,426.6 233.3,426.9 235.3,427.2 237.3,427.5 239.3,427.9 241.3,428.2 243.3,428.6 245.3,429.0 247.3,429.4 249.3,429.8 251.3,430.3 253.3,430.8 255.4,431.3 257.4,431.8 259.4,432.4 261.4,433.0 263.4,433.6 265.4,434.3 267.4,434.9 269.4,435.6 271.4,436.2 273.4,437.0 275.4,437.7 277.4,438.5 279.4,439.3 281.4,440.2 283.4,441.0 285.4,441.9 287.4,442.8 289.4,443.7 291.4,444.6 293.4,445.5 295.4,446.4 297.4,447.3 299.4,448.3 301.4,449.2 303.4,450.2 305.4,451.2 307.4,452.2 309.4,453.2 311.4,454.3 313.4,455.3 315.4,456.3 317.4,457.4 319.4,458.4 321.4,459.4 323.4,460.5 325.4,461.5 327.4,462.5 329.5,463.5 331.5,464.6 333.5,465.6 335.5,466.6 337.5,467.6 339.5,468.7 341.5,469.7 343.5,470.8 345.5,471.8 347.5,472.9 349.5,473.9 351.5,475.0 353.5,476.1 355.5,477.2 357.5,478.2 359.5,479.3 361.5,480.4 363.5,481.5 365.5,482.6 367.5,483.8 369.5,484.9 371.5,486.0 373.5,487.1 375.5,488.2 377.5,489.4 379.5,490.5 381.5,491.6 383.5,492.8 385.5,493.9 387.5,495.1 389.5,496.3 391.5,497.5 393.5,498.8 395.5,500.1 397.5,501.4 399.5,502.7 401.5,504.0 403.6,505.2 405.6,506.4 407.6,507.5 409.6,508.7 411.6,509.8 413.6,510.9 415.6,512.0 417.6,513.1 419.6,514.2 421.6,515.4 423.6,516.5 425.6,517.6 427.6,518.8 429.6,519.9 431.6,521.1 433.6,522.3 435.6,523.5 437.6,524.6 439.6,525.8 441.6,526.9 443.6,528.1 445.6,529.2 447.6,530.3 449.6,531.3 451.6,532.4 453.6,533.4 455.6,534.4 457.6,535.4 459.6,536.4 461.6,537.4 463.6,538.4 465.6,539.4 467.6,540.3 469.6,541.3 471.6,542.3 473.6,543.3 475.6,544.2 477.7,545.2 479.7,546.2 481.7,547.2 483.7,548.1 485.7,549.1 487.7,550.0 489.7,551.0 491.7,551.9 493.7,552.8 495.7,553.7 497.7,554.6 499.7,555.4 501.7,556.3 503.7,557.2 505.7,558.0 507.7,558.8 509.7,559.7 511.7,560.5 513.7,561.3 515.7,562.1 517.7,562.9 519.7,563.7 521.7,564.5 523.7,565.3 525.7,566.1 527.7,566.9 529.7,567.7 531.7,568.4 533.7,569.2 535.7,569.9 537.7,570.6 539.7,571.2 541.7,571.9 543.7,572.5 545.7,573.2 547.7,573.8 549.7,574.4 551.8,575.0 553.8,575.6 555.8,576.2 557.8,576.8 559.8,577.3 561.8,577.9 563.8,578.4 565.8,578.9 567.8,579.3 569.8,579.7 571.8,580.1 573.8,580.5 575.8,580.8 577.8,581.2 579.8,581.5 581.8,581.9 583.8,582.3 585.8,582.7 587.8,583.2 589.8,583.6 591.8,584.1 593.8,584.6 595.8,585.1 597.8,585.6 599.8,586.1 601.8,586.5 603.8,586.9 605.8,587.3 607.8,587.7 609.8,588.1 611.8,588.4 613.8,588.8 615.8,589.1 617.8,589.4 619.8,589.8 621.8,590.1 623.8,590.4 625.9,590.7 627.9,591.0 629.9,591.4 631.9,591.7 633.9,592.0 635.9,592.3 637.9,592.7 639.9,593.0 641.9,593.3 643.9,593.6 645.9,593.9 647.9,594.2 649.9,594.5 651.9,594.7 653.9,594.9 655.9,595.1 657.9,595.4 659.9,595.6 661.9,595.7 663.9,595.9 665.9,596.1 667.9,596.3 669.9,596.5 671.9,596.7 673.9,596.9 675.9,597.1 677.9,597.4 679.9,597.6 681.9,597.9 683.9,598.1 685.9,598.4 687.9,598.6 689.9,598.8 691.9,599.0 693.9,599.2 695.9,599.4 697.9,599.6 700.0,599.7 702.0,599.9 704.0,600.0 706.0,600.2 708.0,600.3 710.0,600.5 712.0,600.6 714.0,600.7 716.0,600.9 718.0,601.0 720.0,601.1 722.0,601.2 724.0,601.3 726.0,601.4 728.0,601.5 730.0,601.5 732.0,601.6 734.0,601.7 736.0,601.7" fill="none" stroke="#0000ff" stroke-width="2.1" stroke-dasharray="11.3 8.2" stroke-dashoffset="18.70"/>
<polyline points="210.7,425.0 212.7,425.1 214.7,425.3 216.7,425.5 218.8,425.7 220.8,426.0 222.8,426.3 224.8,426.6 226.9,426.9 228.9,427.3 230.9,427.6 233.0,428.1 235.0,428.6 237.0,429.2 239.0,429.9 241.1,430.6 243.1,431.3 245.1,432.1 247.2,432.9 249.2,433.7 251.2,434.4 253.2,435.2 255.3,435.9 257.3,436.7 259.3,437.5 261.4,438.3 263.4,439.1 265.4,440.0 267.4,441.0 269.5,442.0 271.5,443.1 273.5,444.3 275.6,445.6 277.6,446.9 279.6,448.2 281.6,449.6 283.7,451.0 285.7,452.4 287.7,453.9 289.8,455.5 291.8,457.0 293.8,458.5 295.8,460.0 297.9,461.6 299.9,463.1 301.9,464.7 304.0,466.3 306.0,467.9 308.0,469.6 310.0,471.2 312.1,472.9 314.1,474.6 316.1,476.4 318.2,478.1 320.2,479.8 322.2,481.6 324.2,483.4 326.3,485.2 328.3,487.0 330.3,488.8 332.4,490.7 334.4,492.5 336.4,494.3 338.4,496.0 340.5,497.7 342.5,499.4 344.5,501.1 346.6,502.8 348.6,504.5 350.6,506.1 352.6,507.8 354.7,509.5 356.7,511.1 358.7,512.8 360.8,514.4 362.8,516.1 364.8,517.8 366.8,519.4 368.9,521.0 370.9,522.7 372.9,524.3 374.9,526.0 377.0,527.6 379.0,529.3 381.0,530.9 383.1,532.6 385.1,534.2 387.1,535.8 389.1,537.4 391.2,539.1 393.2,540.7 395.2,542.3 397.3,543.9 399.3,545.5 401.3,547.1 403.3,548.6 405.4,550.1 407.4,551.6 409.4,553.0 411.5,554.5 413.5,555.9 415.5,557.3 417.5,558.7 419.6,560.1 421.6,561.4 423.6,562.7 425.7,563.9 427.7,565.2 429.7,566.4 431.7,567.6 433.8,568.8 435.8,570.0 437.8,571.1 439.9,572.2 441.9,573.3 443.9,574.3 445.9,575.3 448.0,576.2 450.0,577.1 452.0,577.9 454.1,578.8 456.1,579.6 458.1,580.3 460.1,581.1 462.2,581.8 464.2,582.5 466.2,583.2 468.3,583.8 470.3,584.5 472.3,585.1 474.3,585.7 476.4,586.4 478.4,587.0 480.4,587.6 482.5,588.2 484.5,588.7 486.5,589.3 488.5,589.8 490.6,590.3 492.6,590.8 494.6,591.3 496.7,591.7 498.7,592.1 500.7,592.5 502.7,593.0 504.8,593.3 506.8,593.7 508.8,594.1 510.8,594.4 512.9,594.7 514.9,595.0 516.9,595.2 519.0,595.4 521.0,595.6 523.0,595.8 525.0,596.0 527.1,596.2 529.1,596.3 531.1,596.5 533.2,596.6 535.2,596.7 537.2,596.9 539.2,597.0 541.3,597.2 543.3,597.3 545.3,597.4 547.4,597.6 549.4,597.7 551.4,597.8 553.4,598.0 555.5,598.1 557.5,598.2 559.5,598.3 561.6,598.4 563.6,598.5 565.6,598.6 567.6,598.7 569.7,598.8 571.7,598.9 573.7,599.0 575.8,599.1 577.8,599.2 579.8,599.3 581.8,599.4 583.9,599.5 585.9,599.5 587.9,599.6 590.0,599.7 592.0,599.8 594.0,599.8 596.0,599.9 598.1,600.0 600.1,600.0 602.1,600.1 604.2,600.2 606.2,600.2 608.2,600.3 610.2,600.3 612.3,600.4 614.3,600.4 616.3,600.5 618.4,600.5 620.4,600.6 622.4,600.6 624.4,600.7 626.5,600.7 628.5,600.8 630.5,600.8 632.6,600.8 634.6,600.9 636.6,600.9 638.6,600.9 640.7,601.0 642.7,601.0 644.7,601.0 646.8,601.1 648.8,601.1 650.8,601.1 652.8,601.1 654.9,601.2 656.9,601.2 658.9,601.2 661.0,601.2 663.0,601.2 665.0,601.3 667.0,601.3 669.1,601.3 671.1,601.3 673.1,601.4 675.1,601.4 677.2,601.4 679.2,601.4 681.2,601.4 683.3,601.4 685.3,601.5 687.3,601.5 689.3,601.5 691.4,601.5 693.4,601.5 695.4,601.5 697.5,601.6 699.5,601.6 701.5,601.6 703.5,601.6 705.6,601.6 707.6,601.6 709.6,601.6 711.7,601.7 713.7,601.7 715.7,601.7 717.7,601.7 719.8,601.7 721.8,601.7 723.8,601.7 725.9,601.7 727.9,601.7 729.9,601.7 731.9,601.7 734.0,601.7 736.0,601.7" fill="none" stroke="#00ff00" stroke-width="2.3" stroke-dasharray="2.15 4.1" stroke-dashoffset="4.35"/>
<rect x="204.00" y="602.25" width="532.00" height="177.25" fill="none" stroke="#000" stroke-width="0.85"/>
<path d="M230.60 779.50v-7.2M230.60 602.25v7.2M257.20 779.50v-7.2M257.20 602.25v7.2M283.80 779.50v-7.2M283.80 602.25v7.2M310.40 779.50v-7.2M310.40 602.25v7.2M337.00 779.50v-14.5M337.00 602.25v14.5M363.60 779.50v-7.2M363.60 602.25v7.2M390.20 779.50v-7.2M390.20 602.25v7.2M416.80 779.50v-7.2M416.80 602.25v7.2M443.40 779.50v-7.2M443.40 602.25v7.2M470.00 779.50v-14.5M470.00 602.25v14.5M496.60 779.50v-7.2M496.60 602.25v7.2M523.20 779.50v-7.2M523.20 602.25v7.2M549.80 779.50v-7.2M549.80 602.25v7.2M576.40 779.50v-7.2M576.40 602.25v7.2M603.00 779.50v-14.5M603.00 602.25v14.5M629.60 779.50v-7.2M629.60 602.25v7.2M656.20 779.50v-7.2M656.20 602.25v7.2M682.80 779.50v-7.2M682.80 602.25v7.2M709.40 779.50v-7.2M709.40 602.25v7.2M204.00 770.64h7.2M736.00 770.64h-7.2M204.00 761.77h7.2M736.00 761.77h-7.2M204.00 752.91h7.2M736.00 752.91h-7.2M204.00 744.05h14.5M736.00 744.05h-14.5M204.00 735.19h7.2M736.00 735.19h-7.2M204.00 726.33h7.2M736.00 726.33h-7.2M204.00 717.46h7.2M736.00 717.46h-7.2M204.00 708.60h14.5M736.00 708.60h-14.5M204.00 699.74h7.2M736.00 699.74h-7.2M204.00 690.88h7.2M736.00 690.88h-7.2M204.00 682.01h7.2M736.00 682.01h-7.2M204.00 673.15h14.5M736.00 673.15h-14.5M204.00 664.29h7.2M736.00 664.29h-7.2M204.00 655.42h7.2M736.00 655.42h-7.2M204.00 646.56h7.2M736.00 646.56h-7.2M204.00 637.70h14.5M736.00 637.70h-14.5M204.00 628.84h7.2M736.00 628.84h-7.2M204.00 619.98h7.2M736.00 619.98h-7.2M204.00 611.11h7.2M736.00 611.11h-7.2" stroke="#000" stroke-width="0.75" fill="none"/>
<path d="M216.5 604.51H243.9M216.5 607.04H243.9M216.5 609.57H243.9M243.1 612.10H270.5M243.1 614.63H270.5M269.7 617.17H297.1M269.7 619.70H297.1M269.7 622.23H297.1M296.3 624.76H323.7M296.3 627.29H323.7M296.3 629.83H323.7M296.3 632.36H323.7M322.9 645.02H350.3M322.9 647.55H350.3M322.9 650.08H350.3M322.9 652.61H350.3M322.9 655.15H350.3M322.9 657.68H350.3M322.9 660.21H376.9M349.5 662.74H376.9M349.5 665.27H376.9M349.5 667.81H376.9M349.5 670.34H403.5M376.1 672.87H403.5M376.1 675.40H403.5M376.1 677.93H430.1M376.1 680.47H430.1M376.1 683.00H430.1M376.1 685.53H430.1M402.7 688.06H456.7M402.7 690.59H456.7M402.7 693.13H456.7M429.3 695.66H456.7M429.3 698.19H456.7M429.3 700.72H483.3M429.3 703.25H483.3M429.3 705.79H483.3M455.9 708.32H483.3M455.9 710.85H509.9M455.9 713.38H509.9M482.5 715.91H536.5M482.5 718.45H536.5M509.1 720.98H536.5M509.1 723.51H563.1M509.1 726.04H563.1M535.7 728.57H563.1M535.7 731.11H563.1M535.7 733.64H589.7M562.3 736.17H589.7M562.3 738.70H589.7M562.3 741.23H642.9M562.3 743.77H642.9M588.9 746.30H669.5M588.9 748.83H669.5M615.5 751.36H696.1M615.5 753.89H696.1M642.1 756.43H696.1M668.7 758.96H722.7M668.7 761.49H736.0M695.3 764.02H736.0M695.3 766.55H736.0M695.3 769.09H736.0" stroke="#ff0000" stroke-width="0.65" stroke-dasharray="2.6 3.65" fill="none" opacity="0.85"/>
<polyline points="217.3,602.2 217.3,606.9 243.9,606.9 243.9,613.7 270.5,613.7 270.5,620.1 297.1,620.1 297.1,627.6 323.7,627.6 323.7,652.1 350.3,652.1 350.3,661.9 376.9,661.9 376.9,677.6 403.5,677.6 403.5,683.3 430.1,683.3 430.1,693.2 456.7,693.2 456.7,700.0 483.3,700.0 483.3,708.5 509.9,708.5 509.9,715.5 536.5,715.5 536.5,721.3 563.1,721.3 563.1,731.3 589.7,731.3 589.7,739.3 642.9,739.3 642.9,741.1 669.5,741.1 669.5,748.5 696.1,748.5 696.1,755.6 722.7,755.6 722.7,758.8 736.0,758.8" fill="none" stroke="#ff0000" stroke-width="2.1" stroke-linejoin="miter"/>
<polyline points="217.3,602.2 219.3,602.4 221.3,602.6 223.3,602.9 225.3,603.1 227.3,603.4 229.3,603.7 231.3,604.0 233.3,604.3 235.3,604.6 237.3,605.0 239.3,605.3 241.3,605.7 243.3,606.1 245.3,606.5 247.3,606.9 249.3,607.3 251.3,607.8 253.3,608.3 255.4,608.9 257.4,609.5 259.4,610.0 261.4,610.6 263.4,611.3 265.4,611.9 267.4,612.5 269.4,613.2 271.4,613.8 273.4,614.5 275.4,615.2 277.4,615.9 279.4,616.6 281.4,617.4 283.4,618.1 285.4,618.9 287.4,619.7 289.4,620.5 291.4,621.3 293.4,622.1 295.4,623.0 297.4,623.8 299.4,624.7 301.4,625.6 303.4,626.5 305.4,627.4 307.4,628.4 309.4,629.4 311.4,630.3 313.4,631.3 315.4,632.3 317.4,633.3 319.4,634.3 321.4,635.3 323.4,636.3 325.4,637.3 327.4,638.3 329.5,639.3 331.5,640.3 333.5,641.3 335.5,642.4 337.5,643.4 339.5,644.4 341.5,645.5 343.5,646.5 345.5,647.5 347.5,648.6 349.5,649.6 351.5,650.6 353.5,651.7 355.5,652.7 357.5,653.7 359.5,654.7 361.5,655.7 363.5,656.8 365.5,657.8 367.5,658.8 369.5,659.8 371.5,660.9 373.5,661.9 375.5,662.9 377.5,664.0 379.5,665.0 381.5,666.1 383.5,667.1 385.5,668.2 387.5,669.2 389.5,670.3 391.5,671.3 393.5,672.3 395.5,673.4 397.5,674.4 399.5,675.4 401.5,676.5 403.6,677.6 405.6,678.6 407.6,679.7 409.6,680.8 411.6,681.9 413.6,683.0 415.6,684.1 417.6,685.2 419.6,686.3 421.6,687.4 423.6,688.4 425.6,689.5 427.6,690.5 429.6,691.5 431.6,692.5 433.6,693.5 435.6,694.5 437.6,695.5 439.6,696.5 441.6,697.5 443.6,698.5 445.6,699.5 447.6,700.5 449.6,701.5 451.6,702.5 453.6,703.5 455.6,704.5 457.6,705.5 459.6,706.5 461.6,707.5 463.6,708.5 465.6,709.5 467.6,710.5 469.6,711.5 471.6,712.4 473.6,713.4 475.6,714.3 477.7,715.2 479.7,716.2 481.7,717.1 483.7,718.0 485.7,718.9 487.7,719.7 489.7,720.6 491.7,721.5 493.7,722.3 495.7,723.2 497.7,724.0 499.7,724.8 501.7,725.7 503.7,726.5 505.7,727.3 507.7,728.1 509.7,728.9 511.7,729.6 513.7,730.4 515.7,731.2 517.7,731.9 519.7,732.7 521.7,733.4 523.7,734.1 525.7,734.8 527.7,735.6 529.7,736.3 531.7,736.9 533.7,737.6 535.7,738.3 537.7,738.9 539.7,739.6 541.7,740.2 543.7,740.8 545.7,741.4 547.7,742.0 549.7,742.5 551.8,743.1 553.8,743.6 555.8,744.2 557.8,744.7 559.8,745.3 561.8,745.8 563.8,746.4 565.8,747.0 567.8,747.6 569.8,748.2 571.8,748.8 573.8,749.5 575.8,750.1 577.8,750.8 579.8,751.4 581.8,752.0 583.8,752.5 585.8,753.0 587.8,753.4 589.8,753.8 591.8,754.2 593.8,754.6 595.8,755.0 597.8,755.4 599.8,755.8 601.8,756.1 603.8,756.5 605.8,756.9 607.8,757.2 609.8,757.6 611.8,758.0 613.8,758.3 615.8,758.7 617.8,759.0 619.8,759.4 621.8,759.7 623.8,760.1 625.9,760.4 627.9,760.8 629.9,761.1 631.9,761.5 633.9,761.8 635.9,762.2 637.9,762.6 639.9,762.9 641.9,763.3 643.9,763.6 645.9,763.9 647.9,764.3 649.9,764.6 651.9,764.9 653.9,765.2 655.9,765.4 657.9,765.7 659.9,766.0 661.9,766.2 663.9,766.5 665.9,766.7 667.9,767.0 669.9,767.2 671.9,767.5 673.9,767.7 675.9,768.0 677.9,768.2 679.9,768.4 681.9,768.7 683.9,768.9 685.9,769.1 687.9,769.4 689.9,769.6 691.9,769.8 693.9,770.1 695.9,770.3 697.9,770.5 700.0,770.8 702.0,771.0 704.0,771.3 706.0,771.5 708.0,771.8 710.0,772.0 712.0,772.3 714.0,772.5 716.0,772.8 718.0,773.1 720.0,773.3 722.0,773.6 724.0,773.8 726.0,774.1 728.0,774.4 730.0,774.6 732.0,774.9 734.0,775.2 736.0,775.4" fill="none" stroke="#0000ff" stroke-width="2.1" stroke-dasharray="11.3 8.2" stroke-dashoffset="19.00"/>
<polyline points="210.7,602.2 212.7,602.4 214.7,602.5 216.7,602.7 218.8,602.8 220.8,603.0 222.8,603.2 224.8,603.4 226.9,603.6 228.9,603.8 230.9,604.1 233.0,604.3 235.0,604.6 237.0,605.0 239.0,605.4 241.1,605.8 243.1,606.3 245.1,606.7 247.2,607.2 249.2,607.7 251.2,608.2 253.2,608.7 255.3,609.2 257.3,609.8 259.3,610.3 261.4,610.9 263.4,611.6 265.4,612.2 267.4,612.9 269.5,613.7 271.5,614.5 273.5,615.4 275.6,616.4 277.6,617.4 279.6,618.4 281.6,619.5 283.7,620.6 285.7,621.6 287.7,622.7 289.8,623.8 291.8,624.9 293.8,626.0 295.8,627.1 297.9,628.3 299.9,629.6 301.9,630.9 304.0,632.4 306.0,633.9 308.0,635.5 310.0,637.1 312.1,638.7 314.1,640.3 316.1,641.9 318.2,643.4 320.2,644.8 322.2,646.3 324.2,647.7 326.3,649.2 328.3,650.6 330.3,652.1 332.4,653.6 334.4,655.1 336.4,656.6 338.4,658.2 340.5,659.7 342.5,661.3 344.5,662.9 346.6,664.5 348.6,666.2 350.6,667.9 352.6,669.6 354.7,671.3 356.7,673.0 358.7,674.6 360.8,676.3 362.8,677.9 364.8,679.5 366.8,681.1 368.9,682.7 370.9,684.3 372.9,685.8 374.9,687.4 377.0,688.9 379.0,690.4 381.0,692.0 383.1,693.5 385.1,695.0 387.1,696.5 389.1,698.0 391.2,699.5 393.2,701.0 395.2,702.5 397.3,704.0 399.3,705.5 401.3,707.0 403.3,708.6 405.4,710.2 407.4,711.8 409.4,713.4 411.5,715.1 413.5,716.7 415.5,718.4 417.5,720.0 419.6,721.6 421.6,723.2 423.6,724.7 425.7,726.2 427.7,727.6 429.7,729.0 431.7,730.4 433.8,731.8 435.8,733.1 437.8,734.4 439.9,735.7 441.9,737.0 443.9,738.2 445.9,739.4 448.0,740.6 450.0,741.7 452.0,742.9 454.1,744.0 456.1,745.0 458.1,746.1 460.1,747.1 462.2,748.1 464.2,749.1 466.2,750.1 468.3,751.0 470.3,751.8 472.3,752.7 474.3,753.5 476.4,754.2 478.4,755.0 480.4,755.7 482.5,756.4 484.5,757.1 486.5,757.8 488.5,758.4 490.6,759.1 492.6,759.7 494.6,760.3 496.7,761.0 498.7,761.6 500.7,762.2 502.7,762.8 504.8,763.4 506.8,764.0 508.8,764.5 510.8,765.0 512.9,765.5 514.9,765.9 516.9,766.4 519.0,766.7 521.0,767.1 523.0,767.4 525.0,767.7 527.1,768.0 529.1,768.3 531.1,768.6 533.2,768.9 535.2,769.1 537.2,769.4 539.2,769.6 541.3,769.9 543.3,770.1 545.3,770.4 547.4,770.6 549.4,770.8 551.4,771.0 553.4,771.2 555.5,771.4 557.5,771.6 559.5,771.8 561.6,772.0 563.6,772.2 565.6,772.4 567.6,772.5 569.7,772.7 571.7,772.9 573.7,773.1 575.8,773.3 577.8,773.4 579.8,773.6 581.8,773.7 583.9,773.9 585.9,774.0 587.9,774.1 590.0,774.2 592.0,774.3 594.0,774.4 596.0,774.5 598.1,774.6 600.1,774.7 602.1,774.8 604.2,774.9 606.2,775.0 608.2,775.1 610.2,775.2 612.3,775.3 614.3,775.4 616.3,775.5 618.4,775.6 620.4,775.7 622.4,775.7 624.4,775.8 626.5,775.9 628.5,776.0 630.5,776.1 632.6,776.2 634.6,776.2 636.6,776.3 638.6,776.4 640.7,776.4 642.7,776.5 644.7,776.6 646.8,776.6 648.8,776.7 650.8,776.8 652.8,776.8 654.9,776.9 656.9,776.9 658.9,777.0 661.0,777.0 663.0,777.0 665.0,777.1 667.0,777.1 669.1,777.2 671.1,777.2 673.1,777.2 675.1,777.3 677.2,777.3 679.2,777.4 681.2,777.4 683.3,777.4 685.3,777.5 687.3,777.5 689.3,777.5 691.4,777.6 693.4,777.6 695.4,777.6 697.5,777.7 699.5,777.7 701.5,777.8 703.5,777.8 705.6,777.8 707.6,777.9 709.6,777.9 711.7,777.9 713.7,778.0 715.7,778.0 717.7,778.1 719.8,778.1 721.8,778.1 723.8,778.2 725.9,778.2 727.9,778.2 729.9,778.3 731.9,778.3 734.0,778.3 736.0,778.4" fill="none" stroke="#00ff00" stroke-width="2.3" stroke-dasharray="2.15 4.1" stroke-dashoffset="4.10"/>
<path d="M470.2 106H536.7" stroke="#ff0000" stroke-width="2.1"/>
<path d="M470.2 114.6H536.7" stroke="#0000ff" stroke-width="2.1" stroke-dasharray="11.3 8.2"/>
<path d="M470.2 123.7H536.7" stroke="#00ff00" stroke-width="2.3" stroke-dasharray="2.15 4.1"/>
<path d="M470.2 132.5H536.7" stroke="#00ffff" stroke-width="0.8" stroke-dasharray="11.3 8.2"/>
<path d="M470.2 141.4H536.7" stroke="#ff00ff" stroke-width="0.8" stroke-dasharray="2.3 3.95"/>
<g fill="none" stroke="#000" stroke-linecap="round" stroke-linejoin="round">
<path transform="translate(550.00,105.40) scale(0.4435,0.4346)" d="M17 -7L15 -9L13 -10L7 -12L5 -13L4 -14L3 -16L5 -14L7 -13L13 -11L15 -10L16 -9L17 -7L17 -3L15 -1L12 0L9 0L6 -1L4 -3L3 -6L3 0L4 -3M16 -18L17 -21L17 -15L16 -18L14 -20L11 -21L8 -21L5 -20L3 -18L3 -16M25 -21L25 0M26 -21L26 0M22 -21L32 -21L35 -20L37 -18L38 -16L39 -13L39 -8L38 -5L37 -3L35 -1L32 0L34 -1L36 -3L37 -5L38 -8L38 -13L37 -16L36 -18L34 -20L32 -21M22 0L32 0M47 -21L47 0M48 -21L48 0M44 -21L60 -21L60 -15L59 -21M54 -15L54 -7M44 0L51 0M48 -11L54 -11M83 -3L85 -1L87 0L84 -1L82 -3L81 -6L81 -8L82 -11L84 -13L87 -14L85 -13L83 -11L82 -8L82 -6L83 -3M91 -1L93 -3L94 -6L94 -8L93 -11L91 -13L89 -14L92 -13L94 -11L95 -8L95 -6L94 -3L92 -1L89 0L91 -1M87 -14L89 -14M87 0L89 0M103 -21L103 0M100 -21L104 -21L104 0M112 -1L114 -3L115 -6L115 -8L114 -11L112 -13L110 -14L113 -13L115 -11L116 -8L116 -6L115 -3L113 -1L110 0L112 -1M104 -11L106 -13L108 -14L110 -14M104 -3L106 -1L108 0L110 0M122 -11L123 -10L125 -9L130 -7L132 -6L133 -5L133 -2L132 -1L130 0L126 0L124 -1L123 -2L122 -4L122 0L123 -2M132 -12L133 -10L133 -14L132 -12L131 -13L129 -14L125 -14L123 -13L122 -12L122 -10L123 -9L125 -8L130 -6L132 -5L133 -4M140 -8L140 -6L141 -3L143 -1L145 0L142 -1L140 -3L139 -6L139 -8L140 -11L142 -13L145 -14L143 -13L141 -11L140 -8L152 -8L152 -10L151 -12L150 -13L148 -14L145 -14M145 0L147 0L150 -1L152 -3M150 -13L151 -11L151 -8M160 -14L160 0M157 -14L161 -14L161 0M157 0L164 0M161 -8L162 -11L164 -13L166 -14L169 -14L170 -13L170 -12L169 -11L168 -12L169 -13M175 -14L181 0L187 -14M176 -14L181 -2M173 -14L179 -14M183 -14L189 -14M194 -8L194 -6L195 -3L197 -1L199 0L196 -1L194 -3L193 -6L193 -8L194 -11L196 -13L199 -14L197 -13L195 -11L194 -8L206 -8L206 -10L205 -12L204 -13L202 -14L199 -14M199 0L201 0L204 -1L206 -3M204 -13L205 -11L205 -8M224 -21L224 0L228 0M221 -21L225 -21L225 0M214 -3L216 -1L218 0L215 -1L213 -3L212 -6L212 -8L213 -11L215 -13L218 -14L216 -13L214 -11L213 -8L213 -6L214 -3M218 -14L220 -14L222 -13L224 -11M218 0L220 0L222 -1L224 -3" stroke-width="0.85" vector-effect="non-scaling-stroke"/>
<path transform="translate(550.00,114.30) scale(0.4435,0.4346)" d="M5 -21L5 0M6 -21L6 0M2 -21L14 -21L17 -20L18 -19L19 -17L19 -14L18 -12L17 -11L14 -10L16 -11L17 -12L18 -14L18 -17L17 -19L16 -20L14 -21M6 -10L14 -10M2 0L9 0M27 -21L27 0M28 -21L28 0M24 0L39 0L39 -6L38 0M24 -21L31 -21M45 -21L45 0M46 -21L46 0M42 -21L58 -21L58 -15L57 -21M42 0L58 0L58 -6L57 0M52 -15L52 -7M46 -11L52 -11M82 -14L82 0M79 -14L83 -14L83 0M83 -11L85 -13L88 -14L90 -14L92 -13L93 -11L93 0M105 0L105 -11L104 -13L101 -14L99 -14L96 -13L94 -11L94 0M101 -14L103 -13L104 -11L104 0M79 0L86 0M90 0L97 0M101 0L108 0M90 -14L93 -13L94 -11M115 -3L117 -1L119 0L116 -1L114 -3L113 -6L113 -8L114 -11L116 -13L119 -14L117 -13L115 -11L114 -8L114 -6L115 -3M123 -1L125 -3L126 -6L126 -8L125 -11L123 -13L121 -14L124 -13L126 -11L127 -8L127 -6L126 -3L124 -1L121 0L123 -1M119 -14L121 -14M119 0L121 0M145 -21L145 0L149 0M142 -21L146 -21L146 0M135 -3L137 -1L139 0L136 -1L134 -3L133 -6L133 -8L134 -11L136 -13L139 -14L137 -13L135 -11L134 -8L134 -6L135 -3M139 -14L141 -14L143 -13L145 -11M139 0L141 0L143 -1L145 -3M155 -8L155 -6L156 -3L158 -1L160 0L157 -1L155 -3L154 -6L154 -8L155 -11L157 -13L160 -14L158 -13L156 -11L155 -8L167 -8L167 -10L166 -12L165 -13L163 -14L160 -14M160 0L162 0L165 -1L167 -3M165 -13L166 -11L166 -8M175 -21L175 0M172 -21L176 -21L176 0M172 0L179 0" stroke-width="0.85" vector-effect="non-scaling-stroke"/>
<path transform="translate(550.00,123.30) scale(0.4435,0.4346)" d="M5 -21L5 0M2 -21L6 -21L6 0M6 -11L8 -13L11 -14L13 -14L15 -13L16 -11L16 0M13 -14L16 -13L17 -11L17 0M2 0L9 0M13 0L20 0M27 -14L27 0M24 -14L28 -14L28 0M24 0L31 0M27 -19L26 -20L27 -21L28 -20L27 -19M37 -8L37 -6L38 -3L40 -1L42 0L39 -1L37 -3L36 -6L36 -8L37 -11L39 -13L42 -14L40 -13L38 -11L37 -8L49 -8L49 -10L48 -12L47 -13L45 -14L42 -14M42 0L44 0L47 -1L49 -3M47 -13L48 -11L48 -8M57 -14L57 0M54 -14L58 -14L58 0M54 0L61 0M58 -8L59 -11L61 -13L63 -14L66 -14L67 -13L67 -12L66 -11L65 -12L66 -13M87 0L86 0L85 -1L84 -3L84 -10L83 -12L83 -3L81 -1L79 0L76 0L74 -1L73 -3L73 -5L74 -7L76 -8L82 -9L83 -10M74 -12L74 -11L73 -11L73 -12L74 -13L76 -14L80 -14L82 -13L83 -12M76 0L73 -1L72 -3L72 -5L73 -7L76 -8M83 -3L84 -1L86 0M94 -14L94 0M91 -14L95 -14L95 0M91 0L98 0M95 -8L96 -11L98 -13L100 -14L103 -14L104 -13L104 -12L103 -11L102 -12L103 -13M115 -14L113 -13L111 -11L110 -8L110 -6L111 -3L113 -1L115 0L112 -1L110 -3L109 -6L109 -8L110 -11L112 -13L115 -14L118 -14L120 -13L122 -11L122 -10L121 -9L120 -10L121 -11M115 0L117 0L120 -1L122 -3M130 -21L130 0M127 -21L131 -21L131 0M131 -11L133 -13L136 -14L138 -14L140 -13L141 -11L141 0M138 -14L141 -13L142 -11L142 0M127 0L134 0M138 0L145 0M152 -14L152 0M149 -14L153 -14L153 0M149 0L156 0M152 -19L151 -20L152 -21L153 -20L152 -19M167 -14L165 -13L163 -11L162 -8L162 -6L163 -3L165 -1L167 0L164 -1L162 -3L161 -6L161 -8L162 -11L164 -13L167 -14L170 -14L172 -13L174 -11L174 -10L173 -9L172 -10L173 -11M167 0L169 0L172 -1L174 -3M195 0L194 0L193 -1L192 -3L192 -10L191 -12L191 -3L189 -1L187 0L184 0L182 -1L181 -3L181 -5L182 -7L184 -8L190 -9L191 -10M182 -12L182 -11L181 -11L181 -12L182 -13L184 -14L188 -14L190 -13L191 -12M184 0L181 -1L180 -3L180 -5L181 -7L184 -8M191 -3L192 -1L194 0M202 -21L202 0M199 -21L203 -21L203 0M199 0L206 0M229 -14L229 0M226 -14L230 -14L230 0M230 -11L232 -13L235 -14L237 -14L239 -13L240 -11L240 0M252 0L252 -11L251 -13L248 -14L246 -14L243 -13L241 -11L241 0M248 -14L250 -13L251 -11L251 0M226 0L233 0M237 0L244 0M248 0L255 0M237 -14L240 -13L241 -11M262 -3L264 -1L266 0L263 -1L261 -3L260 -6L260 -8L261 -11L263 -13L266 -14L264 -13L262 -11L261 -8L261 -6L262 -3M270 -1L272 -3L273 -6L273 -8L272 -11L270 -13L268 -14L271 -13L273 -11L274 -8L274 -6L273 -3L271 -1L268 0L270 -1M266 -14L268 -14M266 0L268 0M292 -21L292 0L296 0M289 -21L293 -21L293 0M282 -3L284 -1L286 0L283 -1L281 -3L280 -6L280 -8L281 -11L283 -13L286 -14L284 -13L282 -11L281 -8L281 -6L282 -3M286 -14L288 -14L290 -13L292 -11M286 0L288 0L290 -1L292 -3M302 -8L302 -6L303 -3L305 -1L307 0L304 -1L302 -3L301 -6L301 -8L302 -11L304 -13L307 -14L305 -13L303 -11L302 -8L314 -8L314 -10L313 -12L312 -13L310 -14L307 -14M307 0L309 0L312 -1L314 -3M312 -13L313 -11L313 -8M322 -21L322 0M319 -21L323 -21L323 0M319 0L326 0" stroke-width="0.85" vector-effect="non-scaling-stroke"/>
<path transform="translate(550.00,132.10) scale(0.4435,0.4346)" d="M5 -21L5 0M6 -21L6 0M6 -8L19 -21M10 -12L18 0M11 -12L19 0M2 -21L9 -21M2 0L9 0M15 -21L21 -21M15 0L21 0M39 -18L40 -21L40 -15L39 -18L37 -20L34 -21L32 -21L29 -20L27 -18L26 -16L25 -13L25 -8L26 -5L27 -3L29 -1L32 0L30 -1L28 -3L27 -5L26 -8L26 -13L27 -16L28 -18L30 -20L32 -21M32 0L34 0L37 -1L39 -3L40 -5M52 -21L50 -20L48 -18L47 -15L47 -14L48 -11L50 -9L52 -8L49 -9L47 -11L46 -14L46 -15L47 -18L49 -20L52 -21L54 -21L56 -20L58 -18L59 -15L59 -9L58 -5L57 -3L55 -1L53 0L56 -1L58 -3L59 -5L60 -9L60 -15L59 -18L57 -20L54 -21M52 -8L53 -8L56 -9L58 -11L59 -14M48 -3L49 -4L48 -5L47 -4L47 -3L48 -1L50 0L53 0M79 -15L79 -18L78 -20L75 -21L71 -21L69 -20L68 -18L68 -15L69 -13L71 -12L68 -11L67 -10L66 -8L66 -4L67 -2L68 -1L71 0L69 -1L68 -2L67 -4L67 -8L68 -10L69 -11L71 -12L75 -12L78 -13L79 -15M71 0L75 0L78 -1L79 -2L80 -4L80 -8L79 -10L78 -11L75 -12L77 -13L78 -15L78 -18L77 -20L75 -21M75 -12L77 -11L78 -10L79 -8L79 -4L78 -2L77 -1L75 0M71 -12L68 -13L67 -15L67 -18L68 -20L71 -21M104 -21L104 0M105 -21L105 0M101 -21L113 -21L116 -20L117 -19L118 -17L118 -14L117 -12L116 -11L113 -10L115 -11L116 -12L117 -14L117 -17L116 -19L115 -20L113 -21M105 -10L113 -10M101 0L108 0M126 -21L126 0M127 -21L127 0M123 0L138 0L138 -6L137 0M123 -21L130 -21M144 -21L144 0M145 -21L145 0M141 -21L157 -21L157 -15L156 -21M141 0L157 0L157 -6L156 0M151 -15L151 -7M145 -11L151 -11" stroke-width="0.85" vector-effect="non-scaling-stroke"/>
<path transform="translate(550.00,141.20) scale(0.4435,0.4346)" d="M5 -21L5 0M6 -21L6 0M6 -8L19 -21M10 -12L18 0M11 -12L19 0M2 -21L9 -21M2 0L9 0M15 -21L21 -21M15 0L21 0M39 -18L40 -21L40 -15L39 -18L37 -20L34 -21L32 -21L29 -20L27 -18L26 -16L25 -13L25 -8L26 -5L27 -3L29 -1L32 0L30 -1L28 -3L27 -5L26 -8L26 -13L27 -16L28 -18L30 -20L32 -21M32 0L34 0L37 -1L39 -3L40 -5M52 -21L50 -20L48 -18L47 -15L47 -14L48 -11L50 -9L52 -8L49 -9L47 -11L46 -14L46 -15L47 -18L49 -20L52 -21L54 -21L56 -20L58 -18L59 -15L59 -9L58 -5L57 -3L55 -1L53 0L56 -1L58 -3L59 -5L60 -9L60 -15L59 -18L57 -20L54 -21M52 -8L53 -8L56 -9L58 -11L59 -14M48 -3L49 -4L48 -5L47 -4L47 -3L48 -1L50 0L53 0M79 -15L79 -18L78 -20L75 -21L71 -21L69 -20L68 -18L68 -15L69 -13L71 -12L68 -11L67 -10L66 -8L66 -4L67 -2L68 -1L71 0L69 -1L68 -2L67 -4L67 -8L68 -10L69 -11L71 -12L75 -12L78 -13L79 -15M71 0L75 0L78 -1L79 -2L80 -4L80 -8L79 -10L78 -11L75 -12L77 -13L78 -15L78 -18L77 -20L75 -21M75 -12L77 -11L78 -10L79 -8L79 -4L78 -2L77 -1L75 0M71 -12L68 -13L67 -15L67 -18L68 -20L71 -21M104 -21L104 0M101 -21L105 -21L105 0M105 -11L107 -13L110 -14L112 -14L114 -13L115 -11L115 0M112 -14L115 -13L116 -11L116 0M101 0L108 0M112 0L119 0M126 -14L126 0M123 -14L127 -14L127 0M123 0L130 0M126 -19L125 -20L126 -21L127 -20L126 -19M136 -8L136 -6L137 -3L139 -1L141 0L138 -1L136 -3L135 -6L135 -8L136 -11L138 -13L141 -14L139 -13L137 -11L136 -8L148 -8L148 -10L147 -12L146 -13L144 -14L141 -14M141 0L143 0L146 -1L148 -3M146 -13L147 -11L147 -8M156 -14L156 0M153 -14L157 -14L157 0M153 0L160 0M157 -8L158 -11L160 -13L162 -14L165 -14L166 -13L166 -12L165 -11L164 -12L165 -13M186 0L185 0L184 -1L183 -3L183 -10L182 -12L182 -3L180 -1L178 0L175 0L173 -1L172 -3L172 -5L173 -7L175 -8L181 -9L182 -10M173 -12L173 -11L172 -11L172 -12L173 -13L175 -14L179 -14L181 -13L182 -12M175 0L172 -1L171 -3L171 -5L172 -7L175 -8M182 -3L183 -1L185 0M193 -14L193 0M190 -14L194 -14L194 0M190 0L197 0M194 -8L195 -11L197 -13L199 -14L202 -14L203 -13L203 -12L202 -11L201 -12L202 -13M214 -14L212 -13L210 -11L209 -8L209 -6L210 -3L212 -1L214 0L211 -1L209 -3L208 -6L208 -8L209 -11L211 -13L214 -14L217 -14L219 -13L221 -11L221 -10L220 -9L219 -10L220 -11M214 0L216 0L219 -1L221 -3M229 -21L229 0M226 -21L230 -21L230 0M230 -11L232 -13L235 -14L237 -14L239 -13L240 -11L240 0M237 -14L240 -13L241 -11L241 0M226 0L233 0M237 0L244 0M251 -14L251 0M248 -14L252 -14L252 0M248 0L255 0M251 -19L250 -20L251 -21L252 -20L251 -19M266 -14L264 -13L262 -11L261 -8L261 -6L262 -3L264 -1L266 0L263 -1L261 -3L260 -6L260 -8L261 -11L263 -13L266 -14L269 -14L271 -13L273 -11L273 -10L272 -9L271 -10L272 -11M266 0L268 0L271 -1L273 -3M294 0L293 0L292 -1L291 -3L291 -10L290 -12L290 -3L288 -1L286 0L283 0L281 -1L280 -3L280 -5L281 -7L283 -8L289 -9L290 -10M281 -12L281 -11L280 -11L280 -12L281 -13L283 -14L287 -14L289 -13L290 -12M283 0L280 -1L279 -3L279 -5L280 -7L283 -8M290 -3L291 -1L293 0M301 -21L301 0M298 -21L302 -21L302 0M298 0L305 0" stroke-width="0.85" vector-effect="non-scaling-stroke"/>
<path transform="translate(178.80,254.75) scale(0.6700,0.6566)" d="M5 -4L6 -2L7 -1L9 0L6 -1L4 -4L3 -9L3 -12L4 -17L6 -20L9 -21L7 -20L6 -19L5 -17L4 -12L4 -9L5 -4M9 -21L11 -21L13 -20L14 -19L15 -17L16 -12L16 -9L15 -4L14 -2L13 -1L11 0L9 0M11 -21L14 -20L16 -17L17 -12L17 -9L16 -4L14 -1L11 0" stroke-width="0.85" vector-effect="non-scaling-stroke"/>
<path transform="translate(158.70,219.30) scale(0.6700,0.6566)" d="M5 -4L6 -2L7 -1L9 0L6 -1L4 -4L3 -9L3 -12L4 -17L6 -20L9 -21L7 -20L6 -19L5 -17L4 -12L4 -9L5 -4M9 -21L11 -21L13 -20L14 -19L15 -17L16 -12L16 -9L15 -4L14 -2L13 -1L11 0L9 0M11 -21L14 -20L16 -17L17 -12L17 -9L16 -4L14 -1L11 0M25 0L24 -1L25 -2L26 -1L25 0M33 0L33 -3L34 -6L36 -8L42 -11L45 -13L46 -15L46 -17L45 -19L44 -20L42 -21L38 -21L35 -20L34 -19L33 -17L33 -16L34 -15L35 -16L34 -17M47 -3L46 -2L44 -1L41 -1L36 -3L41 0L45 0L46 -1L47 -3L47 -5M38 -9L43 -11L46 -13L47 -15L47 -17L46 -19L45 -20L42 -21M33 -2L34 -3L36 -3" stroke-width="0.85" vector-effect="non-scaling-stroke"/>
<path transform="translate(158.70,183.85) scale(0.6700,0.6566)" d="M5 -4L6 -2L7 -1L9 0L6 -1L4 -4L3 -9L3 -12L4 -17L6 -20L9 -21L7 -20L6 -19L5 -17L4 -12L4 -9L5 -4M9 -21L11 -21L13 -20L14 -19L15 -17L16 -12L16 -9L15 -4L14 -2L13 -1L11 0L9 0M11 -21L14 -20L16 -17L17 -12L17 -9L16 -4L14 -1L11 0M25 0L24 -1L25 -2L26 -1L25 0M48 -6L32 -6L43 -21L43 0M42 -19L42 0M39 0L46 0" stroke-width="0.85" vector-effect="non-scaling-stroke"/>
<path transform="translate(158.70,148.40) scale(0.6700,0.6566)" d="M5 -4L6 -2L7 -1L9 0L6 -1L4 -4L3 -9L3 -12L4 -17L6 -20L9 -21L7 -20L6 -19L5 -17L4 -12L4 -9L5 -4M9 -21L11 -21L13 -20L14 -19L15 -17L16 -12L16 -9L15 -4L14 -2L13 -1L11 0L9 0M11 -21L14 -20L16 -17L17 -12L17 -9L16 -4L14 -1L11 0M25 0L24 -1L25 -2L26 -1L25 0M45 -18L44 -17L45 -16L46 -17L46 -18L45 -20L43 -21L40 -21L37 -20L35 -18L34 -16L33 -12L33 -6L34 -3L36 -1L39 0L37 -1L35 -3L34 -6L34 -12L35 -16L36 -18L38 -20L40 -21M34 -7L35 -10L37 -12L40 -13L41 -13L44 -12L46 -10L47 -7L47 -6L46 -3L44 -1L41 0L43 -1L45 -3L46 -6L46 -7L45 -10L43 -12L41 -13M39 0L41 0" stroke-width="0.85" vector-effect="non-scaling-stroke"/>
<path transform="translate(158.70,112.95) scale(0.6700,0.6566)" d="M5 -4L6 -2L7 -1L9 0L6 -1L4 -4L3 -9L3 -12L4 -17L6 -20L9 -21L7 -20L6 -19L5 -17L4 -12L4 -9L5 -4M9 -21L11 -21L13 -20L14 -19L15 -17L16 -12L16 -9L15 -4L14 -2L13 -1L11 0L9 0M11 -21L14 -20L16 -17L17 -12L17 -9L16 -4L14 -1L11 0M25 0L24 -1L25 -2L26 -1L25 0M46 -15L46 -18L45 -20L42 -21L38 -21L36 -20L35 -18L35 -15L36 -13L38 -12L35 -11L34 -10L33 -8L33 -4L34 -2L35 -1L38 0L36 -1L35 -2L34 -4L34 -8L35 -10L36 -11L38 -12L42 -12L45 -13L46 -15M38 0L42 0L45 -1L46 -2L47 -4L47 -8L46 -10L45 -11L42 -12L44 -13L45 -15L45 -18L44 -20L42 -21M42 -12L44 -11L45 -10L46 -8L46 -4L45 -2L44 -1L42 0M38 -12L35 -13L34 -15L34 -18L35 -20L38 -21" stroke-width="0.85" vector-effect="non-scaling-stroke"/>
<path transform="translate(178.80,432.00) scale(0.6700,0.6566)" d="M5 -4L6 -2L7 -1L9 0L6 -1L4 -4L3 -9L3 -12L4 -17L6 -20L9 -21L7 -20L6 -19L5 -17L4 -12L4 -9L5 -4M9 -21L11 -21L13 -20L14 -19L15 -17L16 -12L16 -9L15 -4L14 -2L13 -1L11 0L9 0M11 -21L14 -20L16 -17L17 -12L17 -9L16 -4L14 -1L11 0" stroke-width="0.85" vector-effect="non-scaling-stroke"/>
<path transform="translate(158.70,396.55) scale(0.6700,0.6566)" d="M5 -4L6 -2L7 -1L9 0L6 -1L4 -4L3 -9L3 -12L4 -17L6 -20L9 -21L7 -20L6 -19L5 -17L4 -12L4 -9L5 -4M9 -21L11 -21L13 -20L14 -19L15 -17L16 -12L16 -9L15 -4L14 -2L13 -1L11 0L9 0M11 -21L14 -20L16 -17L17 -12L17 -9L16 -4L14 -1L11 0M25 0L24 -1L25 -2L26 -1L25 0M33 0L33 -3L34 -6L36 -8L42 -11L45 -13L46 -15L46 -17L45 -19L44 -20L42 -21L38 -21L35 -20L34 -19L33 -17L33 -16L34 -15L35 -16L34 -17M47 -3L46 -2L44 -1L41 -1L36 -3L41 0L45 0L46 -1L47 -3L47 -5M38 -9L43 -11L46 -13L47 -15L47 -17L46 -19L45 -20L42 -21M33 -2L34 -3L36 -3" stroke-width="0.85" vector-effect="non-scaling-stroke"/>
<path transform="translate(158.70,361.10) scale(0.6700,0.6566)" d="M5 -4L6 -2L7 -1L9 0L6 -1L4 -4L3 -9L3 -12L4 -17L6 -20L9 -21L7 -20L6 -19L5 -17L4 -12L4 -9L5 -4M9 -21L11 -21L13 -20L14 -19L15 -17L16 -12L16 -9L15 -4L14 -2L13 -1L11 0L9 0M11 -21L14 -20L16 -17L17 -12L17 -9L16 -4L14 -1L11 0M25 0L24 -1L25 -2L26 -1L25 0M48 -6L32 -6L43 -21L43 0M42 -19L42 0M39 0L46 0" stroke-width="0.85" vector-effect="non-scaling-stroke"/>
<path transform="translate(158.70,325.65) scale(0.6700,0.6566)" d="M5 -4L6 -2L7 -1L9 0L6 -1L4 -4L3 -9L3 -12L4 -17L6 -20L9 -21L7 -20L6 -19L5 -17L4 -12L4 -9L5 -4M9 -21L11 -21L13 -20L14 -19L15 -17L16 -12L16 -9L15 -4L14 -2L13 -1L11 0L9 0M11 -21L14 -20L16 -17L17 -12L17 -9L16 -4L14 -1L11 0M25 0L24 -1L25 -2L26 -1L25 0M45 -18L44 -17L45 -16L46 -17L46 -18L45 -20L43 -21L40 -21L37 -20L35 -18L34 -16L33 -12L33 -6L34 -3L36 -1L39 0L37 -1L35 -3L34 -6L34 -12L35 -16L36 -18L38 -20L40 -21M34 -7L35 -10L37 -12L40 -13L41 -13L44 -12L46 -10L47 -7L47 -6L46 -3L44 -1L41 0L43 -1L45 -3L46 -6L46 -7L45 -10L43 -12L41 -13M39 0L41 0" stroke-width="0.85" vector-effect="non-scaling-stroke"/>
<path transform="translate(158.70,290.20) scale(0.6700,0.6566)" d="M5 -4L6 -2L7 -1L9 0L6 -1L4 -4L3 -9L3 -12L4 -17L6 -20L9 -21L7 -20L6 -19L5 -17L4 -12L4 -9L5 -4M9 -21L11 -21L13 -20L14 -19L15 -17L16 -12L16 -9L15 -4L14 -2L13 -1L11 0L9 0M11 -21L14 -20L16 -17L17 -12L17 -9L16 -4L14 -1L11 0M25 0L24 -1L25 -2L26 -1L25 0M46 -15L46 -18L45 -20L42 -21L38 -21L36 -20L35 -18L35 -15L36 -13L38 -12L35 -11L34 -10L33 -8L33 -4L34 -2L35 -1L38 0L36 -1L35 -2L34 -4L34 -8L35 -10L36 -11L38 -12L42 -12L45 -13L46 -15M38 0L42 0L45 -1L46 -2L47 -4L47 -8L46 -10L45 -11L42 -12L44 -13L45 -15L45 -18L44 -20L42 -21M42 -12L44 -11L45 -10L46 -8L46 -4L45 -2L44 -1L42 0M38 -12L35 -13L34 -15L34 -18L35 -20L38 -21" stroke-width="0.85" vector-effect="non-scaling-stroke"/>
<path transform="translate(178.80,609.25) scale(0.6700,0.6566)" d="M5 -4L6 -2L7 -1L9 0L6 -1L4 -4L3 -9L3 -12L4 -17L6 -20L9 -21L7 -20L6 -19L5 -17L4 -12L4 -9L5 -4M9 -21L11 -21L13 -20L14 -19L15 -17L16 -12L16 -9L15 -4L14 -2L13 -1L11 0L9 0M11 -21L14 -20L16 -17L17 -12L17 -9L16 -4L14 -1L11 0" stroke-width="0.85" vector-effect="non-scaling-stroke"/>
<path transform="translate(158.70,573.80) scale(0.6700,0.6566)" d="M5 -4L6 -2L7 -1L9 0L6 -1L4 -4L3 -9L3 -12L4 -17L6 -20L9 -21L7 -20L6 -19L5 -17L4 -12L4 -9L5 -4M9 -21L11 -21L13 -20L14 -19L15 -17L16 -12L16 -9L15 -4L14 -2L13 -1L11 0L9 0M11 -21L14 -20L16 -17L17 -12L17 -9L16 -4L14 -1L11 0M25 0L24 -1L25 -2L26 -1L25 0M33 0L33 -3L34 -6L36 -8L42 -11L45 -13L46 -15L46 -17L45 -19L44 -20L42 -21L38 -21L35 -20L34 -19L33 -17L33 -16L34 -15L35 -16L34 -17M47 -3L46 -2L44 -1L41 -1L36 -3L41 0L45 0L46 -1L47 -3L47 -5M38 -9L43 -11L46 -13L47 -15L47 -17L46 -19L45 -20L42 -21M33 -2L34 -3L36 -3" stroke-width="0.85" vector-effect="non-scaling-stroke"/>
<path transform="translate(158.70,538.35) scale(0.6700,0.6566)" d="M5 -4L6 -2L7 -1L9 0L6 -1L4 -4L3 -9L3 -12L4 -17L6 -20L9 -21L7 -20L6 -19L5 -17L4 -12L4 -9L5 -4M9 -21L11 -21L13 -20L14 -19L15 -17L16 -12L16 -9L15 -4L14 -2L13 -1L11 0L9 0M11 -21L14 -20L16 -17L17 -12L17 -9L16 -4L14 -1L11 0M25 0L24 -1L25 -2L26 -1L25 0M48 -6L32 -6L43 -21L43 0M42 -19L42 0M39 0L46 0" stroke-width="0.85" vector-effect="non-scaling-stroke"/>
<path transform="translate(158.70,502.90) scale(0.6700,0.6566)" d="M5 -4L6 -2L7 -1L9 0L6 -1L4 -4L3 -9L3 -12L4 -17L6 -20L9 -21L7 -20L6 -19L5 -17L4 -12L4 -9L5 -4M9 -21L11 -21L13 -20L14 -19L15 -17L16 -12L16 -9L15 -4L14 -2L13 -1L11 0L9 0M11 -21L14 -20L16 -17L17 -12L17 -9L16 -4L14 -1L11 0M25 0L24 -1L25 -2L26 -1L25 0M45 -18L44 -17L45 -16L46 -17L46 -18L45 -20L43 -21L40 -21L37 -20L35 -18L34 -16L33 -12L33 -6L34 -3L36 -1L39 0L37 -1L35 -3L34 -6L34 -12L35 -16L36 -18L38 -20L40 -21M34 -7L35 -10L37 -12L40 -13L41 -13L44 -12L46 -10L47 -7L47 -6L46 -3L44 -1L41 0L43 -1L45 -3L46 -6L46 -7L45 -10L43 -12L41 -13M39 0L41 0" stroke-width="0.85" vector-effect="non-scaling-stroke"/>
<path transform="translate(158.70,467.45) scale(0.6700,0.6566)" d="M5 -4L6 -2L7 -1L9 0L6 -1L4 -4L3 -9L3 -12L4 -17L6 -20L9 -21L7 -20L6 -19L5 -17L4 -12L4 -9L5 -4M9 -21L11 -21L13 -20L14 -19L15 -17L16 -12L16 -9L15 -4L14 -2L13 -1L11 0L9 0M11 -21L14 -20L16 -17L17 -12L17 -9L16 -4L14 -1L11 0M25 0L24 -1L25 -2L26 -1L25 0M46 -15L46 -18L45 -20L42 -21L38 -21L36 -20L35 -18L35 -15L36 -13L38 -12L35 -11L34 -10L33 -8L33 -4L34 -2L35 -1L38 0L36 -1L35 -2L34 -4L34 -8L35 -10L36 -11L38 -12L42 -12L45 -13L46 -15M38 0L42 0L45 -1L46 -2L47 -4L47 -8L46 -10L45 -11L42 -12L44 -13L45 -15L45 -18L44 -20L42 -21M42 -12L44 -11L45 -10L46 -8L46 -4L45 -2L44 -1L42 0M38 -12L35 -13L34 -15L34 -18L35 -20L38 -21" stroke-width="0.85" vector-effect="non-scaling-stroke"/>
<path transform="translate(178.80,786.50) scale(0.6700,0.6566)" d="M5 -4L6 -2L7 -1L9 0L6 -1L4 -4L3 -9L3 -12L4 -17L6 -20L9 -21L7 -20L6 -19L5 -17L4 -12L4 -9L5 -4M9 -21L11 -21L13 -20L14 -19L15 -17L16 -12L16 -9L15 -4L14 -2L13 -1L11 0L9 0M11 -21L14 -20L16 -17L17 -12L17 -9L16 -4L14 -1L11 0" stroke-width="0.85" vector-effect="non-scaling-stroke"/>
<path transform="translate(158.70,751.05) scale(0.6700,0.6566)" d="M5 -4L6 -2L7 -1L9 0L6 -1L4 -4L3 -9L3 -12L4 -17L6 -20L9 -21L7 -20L6 -19L5 -17L4 -12L4 -9L5 -4M9 -21L11 -21L13 -20L14 -19L15 -17L16 -12L16 -9L15 -4L14 -2L13 -1L11 0L9 0M11 -21L14 -20L16 -17L17 -12L17 -9L16 -4L14 -1L11 0M25 0L24 -1L25 -2L26 -1L25 0M33 0L33 -3L34 -6L36 -8L42 -11L45 -13L46 -15L46 -17L45 -19L44 -20L42 -21L38 -21L35 -20L34 -19L33 -17L33 -16L34 -15L35 -16L34 -17M47 -3L46 -2L44 -1L41 -1L36 -3L41 0L45 0L46 -1L47 -3L47 -5M38 -9L43 -11L46 -13L47 -15L47 -17L46 -19L45 -20L42 -21M33 -2L34 -3L36 -3" stroke-width="0.85" vector-effect="non-scaling-stroke"/>
<path transform="translate(158.70,715.60) scale(0.6700,0.6566)" d="M5 -4L6 -2L7 -1L9 0L6 -1L4 -4L3 -9L3 -12L4 -17L6 -20L9 -21L7 -20L6 -19L5 -17L4 -12L4 -9L5 -4M9 -21L11 -21L13 -20L14 -19L15 -17L16 -12L16 -9L15 -4L14 -2L13 -1L11 0L9 0M11 -21L14 -20L16 -17L17 -12L17 -9L16 -4L14 -1L11 0M25 0L24 -1L25 -2L26 -1L25 0M48 -6L32 -6L43 -21L43 0M42 -19L42 0M39 0L46 0" stroke-width="0.85" vector-effect="non-scaling-stroke"/>
<path transform="translate(158.70,680.15) scale(0.6700,0.6566)" d="M5 -4L6 -2L7 -1L9 0L6 -1L4 -4L3 -9L3 -12L4 -17L6 -20L9 -21L7 -20L6 -19L5 -17L4 -12L4 -9L5 -4M9 -21L11 -21L13 -20L14 -19L15 -17L16 -12L16 -9L15 -4L14 -2L13 -1L11 0L9 0M11 -21L14 -20L16 -17L17 -12L17 -9L16 -4L14 -1L11 0M25 0L24 -1L25 -2L26 -1L25 0M45 -18L44 -17L45 -16L46 -17L46 -18L45 -20L43 -21L40 -21L37 -20L35 -18L34 -16L33 -12L33 -6L34 -3L36 -1L39 0L37 -1L35 -3L34 -6L34 -12L35 -16L36 -18L38 -20L40 -21M34 -7L35 -10L37 -12L40 -13L41 -13L44 -12L46 -10L47 -7L47 -6L46 -3L44 -1L41 0L43 -1L45 -3L46 -6L46 -7L45 -10L43 -12L41 -13M39 0L41 0" stroke-width="0.85" vector-effect="non-scaling-stroke"/>
<path transform="translate(158.70,644.70) scale(0.6700,0.6566)" d="M5 -4L6 -2L7 -1L9 0L6 -1L4 -4L3 -9L3 -12L4 -17L6 -20L9 -21L7 -20L6 -19L5 -17L4 -12L4 -9L5 -4M9 -21L11 -21L13 -20L14 -19L15 -17L16 -12L16 -9L15 -4L14 -2L13 -1L11 0L9 0M11 -21L14 -20L16 -17L17 -12L17 -9L16 -4L14 -1L11 0M25 0L24 -1L25 -2L26 -1L25 0M46 -15L46 -18L45 -20L42 -21L38 -21L36 -20L35 -18L35 -15L36 -13L38 -12L35 -11L34 -10L33 -8L33 -4L34 -2L35 -1L38 0L36 -1L35 -2L34 -4L34 -8L35 -10L36 -11L38 -12L42 -12L45 -13L46 -15M38 0L42 0L45 -1L46 -2L47 -4L47 -8L46 -10L45 -11L42 -12L44 -13L45 -15L45 -18L44 -20L42 -21M42 -12L44 -11L45 -10L46 -8L46 -4L45 -2L44 -1L42 0M38 -12L35 -13L34 -15L34 -18L35 -20L38 -21" stroke-width="0.85" vector-effect="non-scaling-stroke"/>
<path transform="translate(197.30,805.50) scale(0.6700,0.6566)" d="M5 -4L6 -2L7 -1L9 0L6 -1L4 -4L3 -9L3 -12L4 -17L6 -20L9 -21L7 -20L6 -19L5 -17L4 -12L4 -9L5 -4M9 -21L11 -21L13 -20L14 -19L15 -17L16 -12L16 -9L15 -4L14 -2L13 -1L11 0L9 0M11 -21L14 -20L16 -17L17 -12L17 -9L16 -4L14 -1L11 0" stroke-width="0.85" vector-effect="non-scaling-stroke"/>
<path transform="translate(330.30,805.50) scale(0.6700,0.6566)" d="M6 -17L8 -18L11 -21L11 0M10 -20L10 0M6 0L15 0" stroke-width="0.85" vector-effect="non-scaling-stroke"/>
<path transform="translate(463.30,805.50) scale(0.6700,0.6566)" d="M3 0L3 -3L4 -6L6 -8L12 -11L15 -13L16 -15L16 -17L15 -19L14 -20L12 -21L8 -21L5 -20L4 -19L3 -17L3 -16L4 -15L5 -16L4 -17M17 -3L16 -2L14 -1L11 -1L6 -3L11 0L15 0L16 -1L17 -3L17 -5M8 -9L13 -11L16 -13L17 -15L17 -17L16 -19L15 -20L12 -21M3 -2L4 -3L6 -3" stroke-width="0.85" vector-effect="non-scaling-stroke"/>
<path transform="translate(596.30,805.50) scale(0.6700,0.6566)" d="M4 -17L5 -16L4 -15L3 -16L3 -17L4 -19L5 -20L8 -21L12 -21L15 -20L16 -18L16 -15L15 -13L12 -12L9 -12M4 -4L5 -5L4 -6L3 -5L3 -4L4 -2L5 -1L8 0L12 0L15 -1L16 -2L17 -4L17 -7L16 -9L14 -11L12 -12L14 -13L15 -15L15 -18L14 -20L12 -21M15 -10L16 -7L16 -4L15 -2L14 -1L12 0" stroke-width="0.85" vector-effect="non-scaling-stroke"/>
<path transform="translate(729.30,805.50) scale(0.6700,0.6566)" d="M18 -6L2 -6L13 -21L13 0M12 -19L12 0M9 0L16 0" stroke-width="0.85" vector-effect="non-scaling-stroke"/>
<path transform="translate(602.70,88.00) scale(0.6700,0.6566)" d="M6 -17L8 -18L11 -21L11 0M10 -20L10 0M6 0L15 0M29 -21L27 -20L25 -18L24 -15L24 -14L25 -11L27 -9L29 -8L26 -9L24 -11L23 -14L23 -15L24 -18L26 -20L29 -21L31 -21L33 -20L35 -18L36 -15L36 -9L35 -5L34 -3L32 -1L30 0L33 -1L35 -3L36 -5L37 -9L37 -15L36 -18L34 -20L31 -21M29 -8L30 -8L33 -9L35 -11L36 -14M25 -3L26 -4L25 -5L24 -4L24 -3L25 -1L27 0L30 0M60 0L44 -9L60 -18" stroke-width="0.85" vector-effect="non-scaling-stroke"/>
<path transform="translate(646.30,88.00) scale(0.6700,0.6566)" d="M5 -21L5 0M6 -21L6 0M6 -8L19 -21M10 -12L18 0M11 -12L19 0M2 -21L9 -21M2 0L9 0M15 -21L21 -21M15 0L21 0" stroke-width="0.85" vector-effect="non-scaling-stroke"/>
<path transform="translate(680.00,88.00) scale(0.6700,0.6566)" d="M3 0L3 -3L4 -6L6 -8L12 -11L15 -13L16 -15L16 -17L15 -19L14 -20L12 -21L8 -21L5 -20L4 -19L3 -17L3 -16L4 -15L5 -16L4 -17M17 -3L16 -2L14 -1L11 -1L6 -3L11 0L15 0L16 -1L17 -3L17 -5M8 -9L13 -11L16 -13L17 -15L17 -17L16 -19L15 -20L12 -21M3 -2L4 -3L6 -3M26 -17L28 -18L31 -21L31 0M30 -20L30 0M26 0L35 0" stroke-width="0.85" vector-effect="non-scaling-stroke"/>
<path d="M661.8 72.2L663.2 72.5L660.5 77.1Z" fill="#000" stroke-width="0.5"/>
<path d="M676.6 73.7L666.3 78.5L676.6 83.1M666.3 84.7H676.6M666.3 87.9H676.6" stroke-width="0.95"/>
<path transform="translate(602.70,265.25) scale(0.6700,0.6566)" d="M3 0L3 -3L4 -6L6 -8L12 -11L15 -13L16 -15L16 -17L15 -19L14 -20L12 -21L8 -21L5 -20L4 -19L3 -17L3 -16L4 -15L5 -16L4 -17M17 -3L16 -2L14 -1L11 -1L6 -3L11 0L15 0L16 -1L17 -3L17 -5M8 -9L13 -11L16 -13L17 -15L17 -17L16 -19L15 -20L12 -21M3 -2L4 -3L6 -3M26 -17L28 -18L31 -21L31 0M30 -20L30 0M26 0L35 0M60 0L44 -9L60 -18" stroke-width="0.85" vector-effect="non-scaling-stroke"/>
<path transform="translate(646.30,265.25) scale(0.6700,0.6566)" d="M5 -21L5 0M6 -21L6 0M6 -8L19 -21M10 -12L18 0M11 -12L19 0M2 -21L9 -21M2 0L9 0M15 -21L21 -21M15 0L21 0" stroke-width="0.85" vector-effect="non-scaling-stroke"/>
<path transform="translate(680.00,265.25) scale(0.6700,0.6566)" d="M3 0L3 -3L4 -6L6 -8L12 -11L15 -13L16 -15L16 -17L15 -19L14 -20L12 -21L8 -21L5 -20L4 -19L3 -17L3 -16L4 -15L5 -16L4 -17M17 -3L16 -2L14 -1L11 -1L6 -3L11 0L15 0L16 -1L17 -3L17 -5M8 -9L13 -11L16 -13L17 -15L17 -17L16 -19L15 -20L12 -21M3 -2L4 -3L6 -3M23 0L23 -3L24 -6L26 -8L32 -11L35 -13L36 -15L36 -17L35 -19L34 -20L32 -21L28 -21L25 -20L24 -19L23 -17L23 -16L24 -15L25 -16L24 -17M37 -3L36 -2L34 -1L31 -1L26 -3L31 0L35 0L36 -1L37 -3L37 -5M28 -9L33 -11L36 -13L37 -15L37 -17L36 -19L35 -20L32 -21M23 -2L24 -3L26 -3" stroke-width="0.85" vector-effect="non-scaling-stroke"/>
<path d="M661.8 249.4L663.2 249.8L660.5 254.3Z" fill="#000" stroke-width="0.5"/>
<path d="M676.6 250.9L666.3 255.8L676.6 260.4M666.3 261.9H676.6M666.3 265.1H676.6" stroke-width="0.95"/>
<path transform="translate(602.70,442.50) scale(0.6700,0.6566)" d="M3 0L3 -3L4 -6L6 -8L12 -11L15 -13L16 -15L16 -17L15 -19L14 -20L12 -21L8 -21L5 -20L4 -19L3 -17L3 -16L4 -15L5 -16L4 -17M17 -3L16 -2L14 -1L11 -1L6 -3L11 0L15 0L16 -1L17 -3L17 -5M8 -9L13 -11L16 -13L17 -15L17 -17L16 -19L15 -20L12 -21M3 -2L4 -3L6 -3M23 0L23 -3L24 -6L26 -8L32 -11L35 -13L36 -15L36 -17L35 -19L34 -20L32 -21L28 -21L25 -20L24 -19L23 -17L23 -16L24 -15L25 -16L24 -17M37 -3L36 -2L34 -1L31 -1L26 -3L31 0L35 0L36 -1L37 -3L37 -5M28 -9L33 -11L36 -13L37 -15L37 -17L36 -19L35 -20L32 -21M23 -2L24 -3L26 -3M60 0L44 -9L60 -18" stroke-width="0.85" vector-effect="non-scaling-stroke"/>
<path transform="translate(646.30,442.50) scale(0.6700,0.6566)" d="M5 -21L5 0M6 -21L6 0M6 -8L19 -21M10 -12L18 0M11 -12L19 0M2 -21L9 -21M2 0L9 0M15 -21L21 -21M15 0L21 0" stroke-width="0.85" vector-effect="non-scaling-stroke"/>
<path transform="translate(680.00,442.50) scale(0.6700,0.6566)" d="M3 0L3 -3L4 -6L6 -8L12 -11L15 -13L16 -15L16 -17L15 -19L14 -20L12 -21L8 -21L5 -20L4 -19L3 -17L3 -16L4 -15L5 -16L4 -17M17 -3L16 -2L14 -1L11 -1L6 -3L11 0L15 0L16 -1L17 -3L17 -5M8 -9L13 -11L16 -13L17 -15L17 -17L16 -19L15 -20L12 -21M3 -2L4 -3L6 -3M24 -17L25 -16L24 -15L23 -16L23 -17L24 -19L25 -20L28 -21L32 -21L35 -20L36 -18L36 -15L35 -13L32 -12L29 -12M24 -4L25 -5L24 -6L23 -5L23 -4L24 -2L25 -1L28 0L32 0L35 -1L36 -2L37 -4L37 -7L36 -9L34 -11L32 -12L34 -13L35 -15L35 -18L34 -20L32 -21M35 -10L36 -7L36 -4L35 -2L34 -1L32 0" stroke-width="0.85" vector-effect="non-scaling-stroke"/>
<path d="M661.8 426.7L663.2 427.0L660.5 431.6Z" fill="#000" stroke-width="0.5"/>
<path d="M676.6 428.2L666.3 433.0L676.6 437.6M666.3 439.2H676.6M666.3 442.4H676.6" stroke-width="0.95"/>
<path transform="translate(602.70,619.75) scale(0.6700,0.6566)" d="M3 0L3 -3L4 -6L6 -8L12 -11L15 -13L16 -15L16 -17L15 -19L14 -20L12 -21L8 -21L5 -20L4 -19L3 -17L3 -16L4 -15L5 -16L4 -17M17 -3L16 -2L14 -1L11 -1L6 -3L11 0L15 0L16 -1L17 -3L17 -5M8 -9L13 -11L16 -13L17 -15L17 -17L16 -19L15 -20L12 -21M3 -2L4 -3L6 -3M24 -17L25 -16L24 -15L23 -16L23 -17L24 -19L25 -20L28 -21L32 -21L35 -20L36 -18L36 -15L35 -13L32 -12L29 -12M24 -4L25 -5L24 -6L23 -5L23 -4L24 -2L25 -1L28 0L32 0L35 -1L36 -2L37 -4L37 -7L36 -9L34 -11L32 -12L34 -13L35 -15L35 -18L34 -20L32 -21M35 -10L36 -7L36 -4L35 -2L34 -1L32 0M60 0L44 -9L60 -18" stroke-width="0.85" vector-effect="non-scaling-stroke"/>
<path transform="translate(646.30,619.75) scale(0.6700,0.6566)" d="M5 -21L5 0M6 -21L6 0M6 -8L19 -21M10 -12L18 0M11 -12L19 0M2 -21L9 -21M2 0L9 0M15 -21L21 -21M15 0L21 0" stroke-width="0.85" vector-effect="non-scaling-stroke"/>
<path transform="translate(680.00,619.75) scale(0.6700,0.6566)" d="M3 0L3 -3L4 -6L6 -8L12 -11L15 -13L16 -15L16 -17L15 -19L14 -20L12 -21L8 -21L5 -20L4 -19L3 -17L3 -16L4 -15L5 -16L4 -17M17 -3L16 -2L14 -1L11 -1L6 -3L11 0L15 0L16 -1L17 -3L17 -5M8 -9L13 -11L16 -13L17 -15L17 -17L16 -19L15 -20L12 -21M3 -2L4 -3L6 -3M38 -6L22 -6L33 -21L33 0M32 -19L32 0M29 0L36 0" stroke-width="0.85" vector-effect="non-scaling-stroke"/>
<path d="M661.8 604.0L663.2 604.2L660.5 608.9Z" fill="#000" stroke-width="0.5"/>
<path d="M676.6 605.5L666.3 610.2L676.6 614.9M666.3 616.5H676.6M666.3 619.6H676.6" stroke-width="0.95"/>
<path transform="translate(139.20,454.22) rotate(-90) scale(0.6630,0.7000)" d="M10 -20L9 -19L10 -18L11 -19L11 -20L10 -21L8 -21L6 -20L5 -18L5 0M8 -21L7 -20L6 -18L6 0M2 -14L10 -14M2 0L9 0M18 -14L18 0M15 -14L19 -14L19 0M15 0L22 0M19 -8L20 -11L22 -13L24 -14L27 -14L28 -13L28 -12L27 -11L26 -12L27 -13M48 0L47 0L46 -1L45 -3L45 -10L44 -12L44 -3L42 -1L40 0L37 0L35 -1L34 -3L34 -5L35 -7L37 -8L43 -9L44 -10M35 -12L35 -11L34 -11L34 -12L35 -13L37 -14L41 -14L43 -13L44 -12M37 0L34 -1L33 -3L33 -5L34 -7L37 -8M44 -3L45 -1L47 0M59 -14L57 -13L55 -11L54 -8L54 -6L55 -3L57 -1L59 0L56 -1L54 -3L53 -6L53 -8L54 -11L56 -13L59 -14L62 -14L64 -13L66 -11L66 -10L65 -9L64 -10L65 -11M59 0L61 0L64 -1L66 -3M74 -21L74 -4L75 -1L77 0L79 0L81 -1L82 -3M75 -21L75 -4L76 -1L77 0M71 -14L79 -14M89 -14L89 0M86 -14L90 -14L90 0M86 0L93 0M89 -19L88 -20L89 -21L90 -20L89 -19M100 -3L102 -1L104 0L101 -1L99 -3L98 -6L98 -8L99 -11L101 -13L104 -14L102 -13L100 -11L99 -8L99 -6L100 -3M108 -1L110 -3L111 -6L111 -8L110 -11L108 -13L106 -14L109 -13L111 -11L112 -8L112 -6L111 -3L109 -1L106 0L108 -1M104 -14L106 -14M104 0L106 0M120 -14L120 0M117 -14L121 -14L121 0M121 -11L123 -13L126 -14L128 -14L130 -13L131 -11L131 0M128 -14L131 -13L132 -11L132 0M117 0L124 0M128 0L135 0" stroke-width="0.85" vector-effect="non-scaling-stroke"/>
<path transform="translate(448.19,818.20) scale(0.6700,0.6700)" d="M14 0L15 -4L15 0L3 0L14 -14M4 0L15 -14L3 -14L3 -10L4 -14" stroke-width="0.85" vector-effect="non-scaling-stroke"/>
<path transform="translate(460.81,824.60) scale(0.3850,0.3773)" d="M5 -14L5 7M2 -14L6 -14L6 7M2 7L9 7M14 -1L16 -3L17 -6L17 -8L16 -11L14 -13L12 -14L15 -13L17 -11L18 -8L18 -6L17 -3L15 -1L12 0L14 -1M6 -11L8 -13L10 -14L12 -14M6 -3L8 -1L10 0L12 0M26 -21L26 0M23 -21L27 -21L27 0M27 -11L29 -13L32 -14L34 -14L36 -13L37 -11L37 0M34 -14L37 -13L38 -11L38 0M23 0L30 0M34 0L41 0M48 -3L50 -1L52 0L49 -1L47 -3L46 -6L46 -8L47 -11L49 -13L52 -14L50 -13L48 -11L47 -8L47 -6L48 -3M56 -1L58 -3L59 -6L59 -8L58 -11L56 -13L54 -14L57 -13L59 -11L60 -8L60 -6L59 -3L57 -1L54 0L56 -1M52 -14L54 -14M52 0L54 0M68 -21L68 -4L69 -1L71 0L73 0L75 -1L76 -3M69 -21L69 -4L70 -1L71 0M65 -14L73 -14" stroke-width="0.85" vector-effect="non-scaling-stroke"/>
</g>
</svg>
</body></html>
